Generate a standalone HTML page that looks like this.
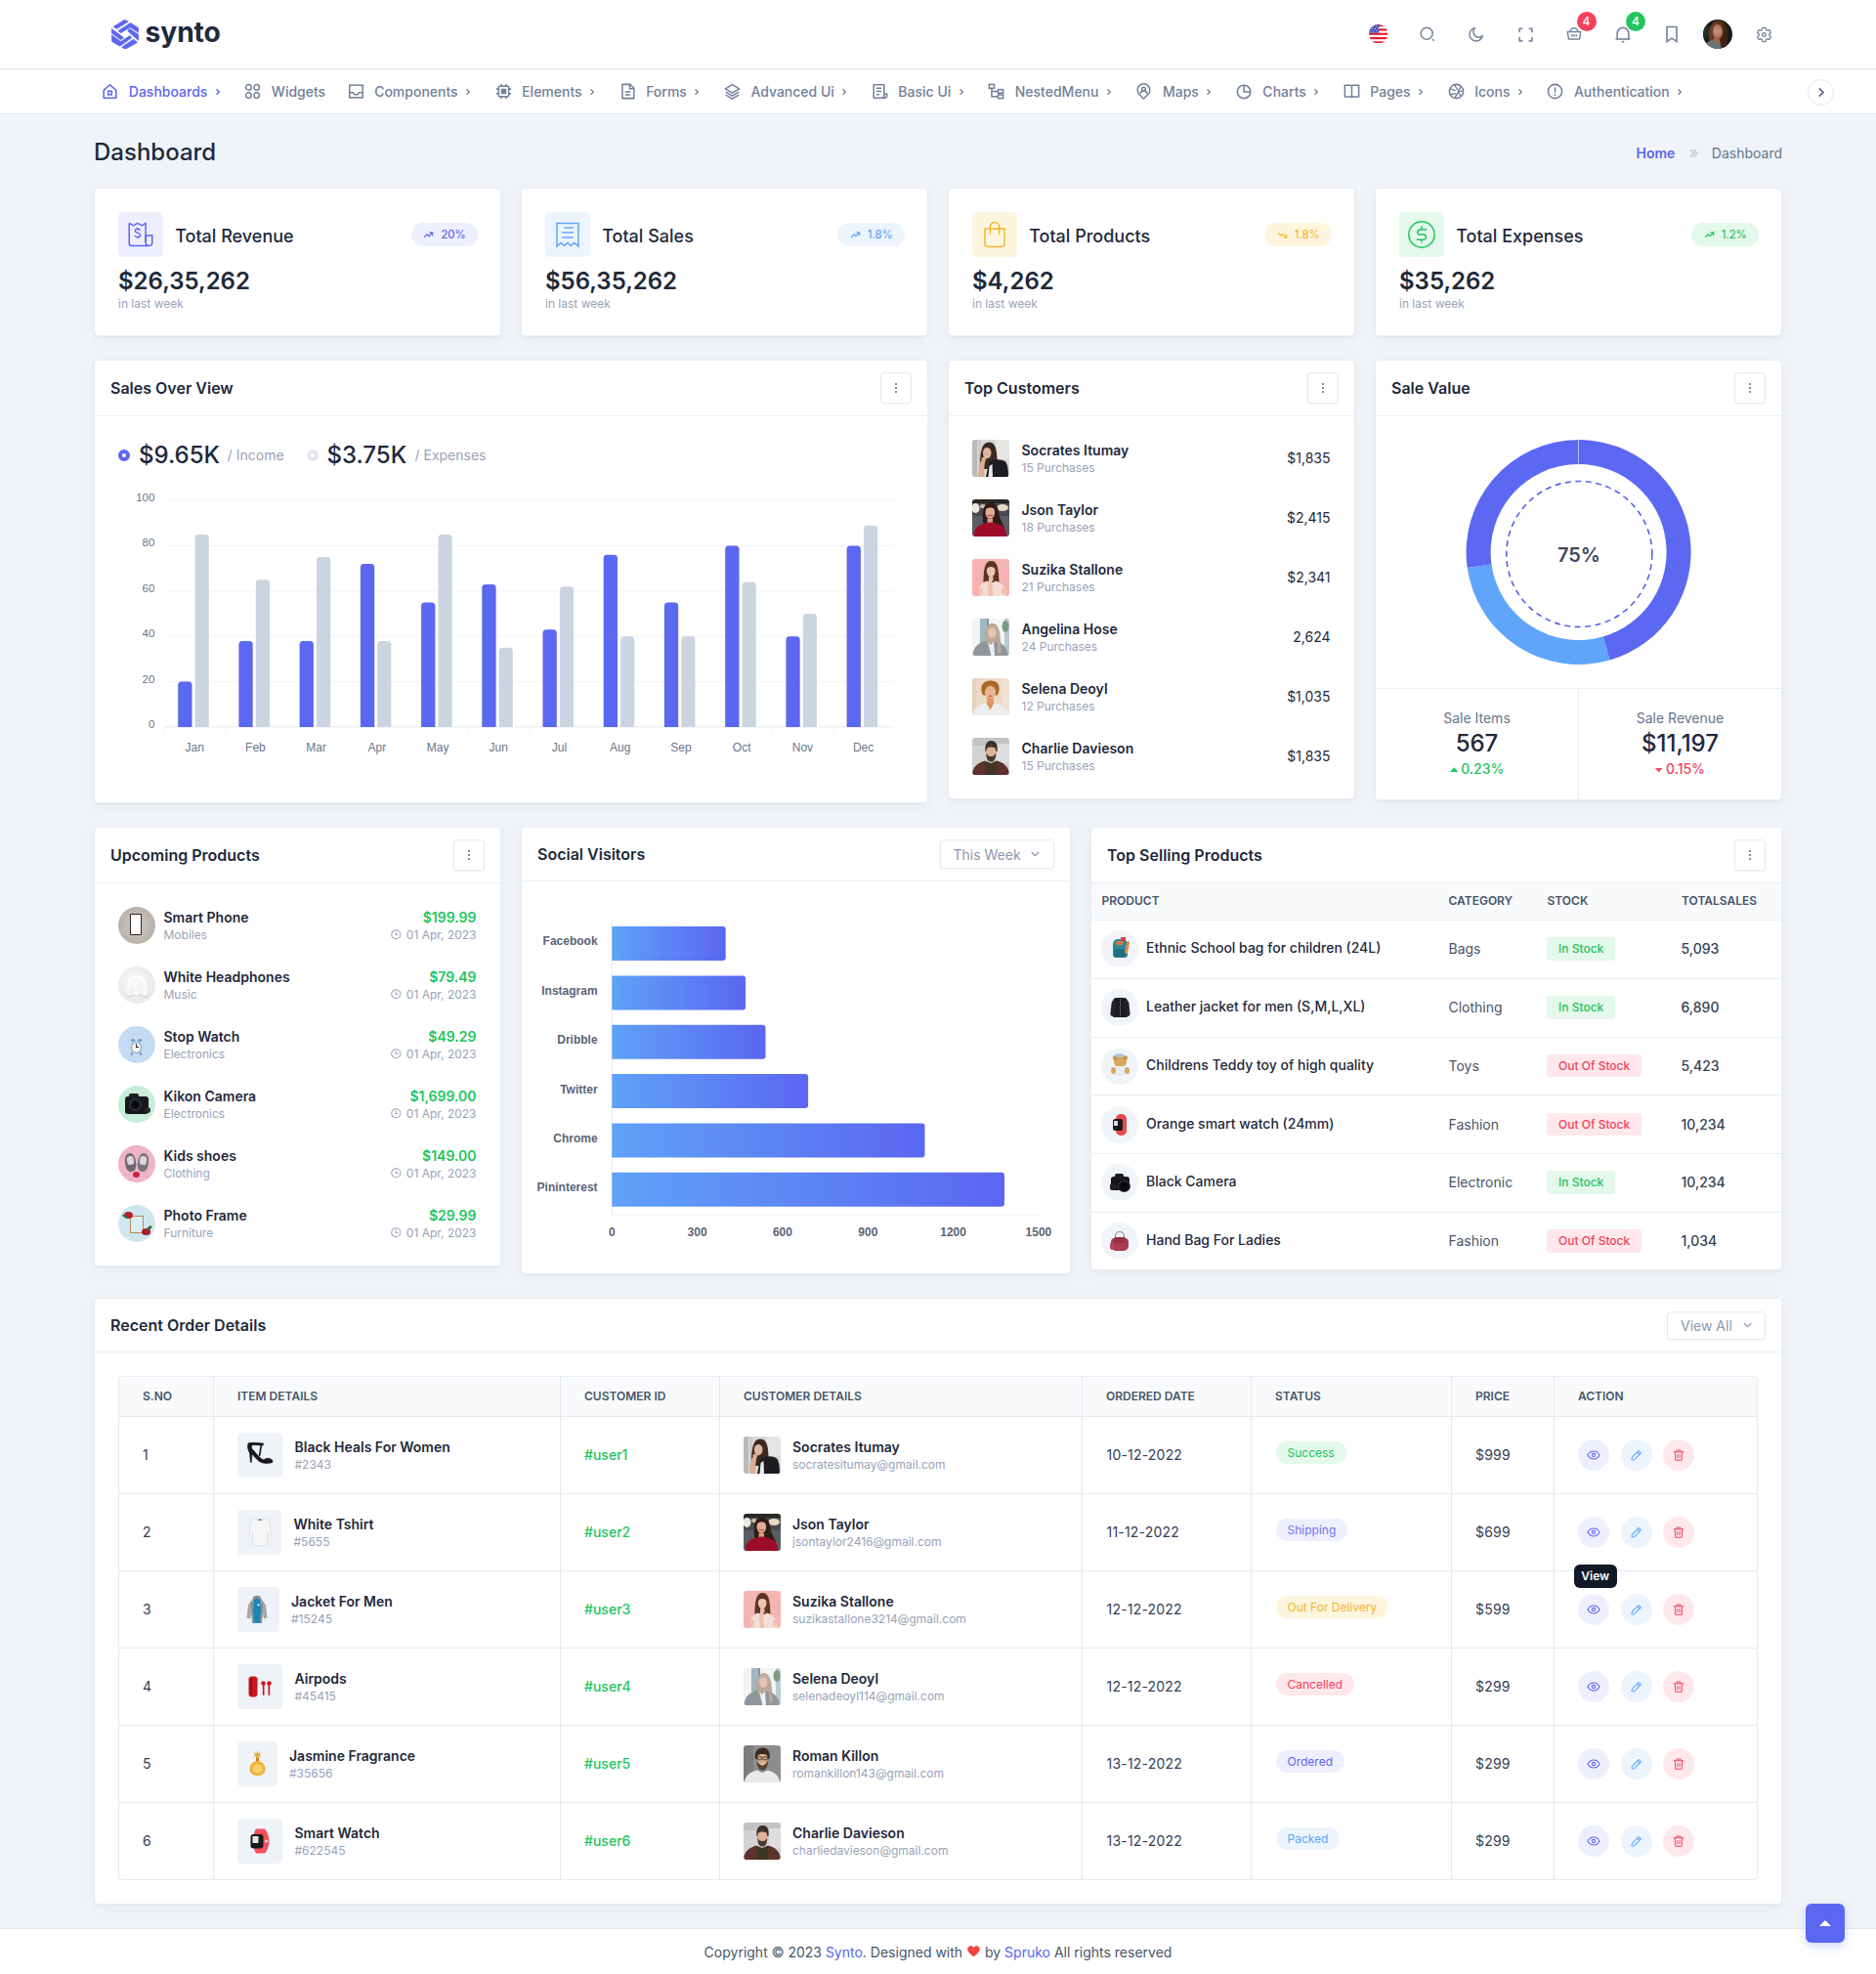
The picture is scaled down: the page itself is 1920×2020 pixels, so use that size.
<!DOCTYPE html>
<html lang="en"><head><meta charset="utf-8"><title>Synto - Dashboard</title>
<style>
*{box-sizing:border-box;margin:0;padding:0}
html,body{width:1920px;height:2020px;overflow:hidden}
body{font-family:Inter,"Liberation Sans",sans-serif;font-size:14px;color:#1e293b;background:#f0f4f8;position:relative;-webkit-font-smoothing:antialiased}
svg{display:block}
.abs{position:absolute}
.card{position:absolute;background:#fff;border:1px solid #e9edf3;border-radius:4px;box-shadow:0 1px 2px rgba(15,23,42,.04),0 4px 12px rgba(30,41,59,.035)}
.chead{height:57px;border-bottom:1px solid #e9edf3;display:flex;align-items:center;justify-content:space-between;padding:0 16px 0 16px}
.chead h5{font-size:16px;font-weight:600;color:#1e293b}
.dots{width:32px;height:32px;border:1px solid #e5e9f0;border-radius:4px;background:#fff;display:flex;align-items:center;justify-content:center;box-shadow:0 1px 2px rgba(15,23,42,.05)}
.dots i{display:block;width:2px;height:2px;border-radius:50%;background:#5b6478;box-shadow:0 -4px 0 #5b6478,0 4px 0 #5b6478}
.muted{color:#94a3b8}
.hic{fill:none;stroke:#78859b;stroke-width:2;stroke-linecap:butt}
.bdg{width:20px;height:20px;border-radius:50%;color:#fff;font-size:12px;font-weight:500;line-height:20px;text-align:center}
.ni{display:flex;flex:none;align-items:center;padding:0 11px 0 10.500px;color:#73809a;font-size:14px;font-weight:500;height:45px}
.ni svg{fill:none;stroke:currentColor;stroke-width:1.900;flex:none}
.ni span{margin-left:9.500px;position:relative;top:.800px}
.ni>svg:first-child{position:relative;top:1px}
.ni .chv{margin-left:7.500px;margin-right:2px;stroke-width:1.300;margin-top:3px}
.ni.act{color:#5b66f1}
.st-t{font-size:18px;font-weight:500;line-height:28px;color:#1e293b;white-space:nowrap}
.st-b{height:24px;border-radius:12px;padding:0 11.800px 0 12.300px;display:flex;align-items:center;font-size:11.200px;font-weight:500;line-height:24px}
.st-b span{margin-left:7px}
.st-v{font-size:24px;font-weight:600;line-height:32px;color:#1e293b;white-space:nowrap}
.st-s{font-size:12px;line-height:16px;color:#98a2bb;white-space:nowrap}
.lg-v{font-size:24px;font-weight:500;line-height:32px;color:#1e293b;white-space:nowrap}
.lg-s{font-size:14px;line-height:20px;color:#98a2bb;white-space:nowrap}
.av{position:relative;overflow:hidden;flex:none}
.av div{position:absolute}
.tc-n{font-size:14px;font-weight:600;line-height:20px;color:#1e293b;white-space:nowrap}
.tc-s{font-size:12px;line-height:16px;color:#98a2bb;white-space:nowrap}
.tc-p{font-size:14px;line-height:20px;color:#1e293b;white-space:nowrap}
.sv-l{font-size:14px;line-height:20px;color:#66748b;text-align:center}
.sv-v{font-size:24px;font-weight:500;line-height:32px;color:#1e293b;text-align:center}
.sv-p{font-size:14px;font-weight:500;line-height:20px;text-align:center}
.th{position:relative;width:38px;height:38px;border-radius:50%;overflow:hidden}
.th div{position:absolute}
.pth{position:relative;width:38px;height:38px;border-radius:50%;overflow:hidden;background:#f1f5f9}
.pth div{position:absolute}
.selbtn{border:1px solid #e5e9f0;border-radius:4px;background:#fff;display:flex;align-items:center;justify-content:space-between;padding:0 16px 0 13px;color:#8c97ad;font-size:14px;box-shadow:0 1px 2px rgba(15,23,42,.05)}
.tp-h{font-size:12px;font-weight:600;line-height:16px;color:#475569;white-space:nowrap}
.tp-n{font-size:14px;font-weight:500;line-height:20px;color:#1e293b;white-space:nowrap}
.tp-c{font-size:14px;line-height:20px;color:#475569;white-space:nowrap}
.tp-t{font-size:14px;font-weight:500;line-height:20px;color:#334155;white-space:nowrap}
.bg{display:inline-block;height:23.500px;line-height:23.500px;padding:0 12px;border-radius:3px;font-size:12px;font-weight:500;white-space:nowrap}
.bg-g{background:rgba(34,197,94,.12);color:#22c55e}
.bg-r{background:rgba(244,63,94,.12);color:#f43f5e}
.pim{position:relative;height:45.500px;border-radius:4px;background:#eff3f8;overflow:hidden}
.ro-t{font-size:14px;line-height:20px;color:#334155;white-space:nowrap;letter-spacing:.2px}
.ro-u{font-size:14px;font-weight:500;line-height:20px;color:#22c55e;white-space:nowrap}
.sb{height:23px;line-height:23px;border-radius:12px;padding:0 12px;font-size:12px;font-weight:400;white-space:nowrap}
.ab{width:32px;height:32px;border-radius:50%;display:flex;align-items:center;justify-content:center}
.avs{display:block;overflow:hidden}

</style></head><body>
<svg width="0" height="0" style="position:absolute"><defs><filter id="avb" x="-5%" y="-5%" width="110%" height="110%"><feGaussianBlur stdDeviation=".45"/></filter></defs></svg>
<div class="abs" id="hdr" style="left:0;top:0;width:1920px;height:71px;background:#fff;border-bottom:1px solid #e2e8f0"></div>
<svg class="abs" style="left:113.850px;top:19.850px" width="28.100" height="30.200" viewBox="0 0 28.100 30.200"><g fill="#5b66f1" stroke="#5b66f1" stroke-width=".7" stroke-linejoin="round">
<path d="M2.200 7.300L12.600 .8Q13.600 .3 14.600 .7L17.400 1.900 5.600 9.400z"/>
<path d="M19.400 3.600L26.500 7.700Q27.700 8.500 27.700 9.800V13.300L19.100 7.900 9.700 13.700 6.900 11.600z"/>
<path d="M.4 9.600L12.600 18.600 9.600 20.700 .4 14z"/>
<path d="M18.700 9.500L27.700 15.300V21.400L16.500 11.500z"/>
<path d="M.4 15.900L9.600 22.600 18.700 16.600 20.900 18.500 8.800 27.300 1.800 23.300Q.4 22.400 .4 20.900z"/>
<path d="M10.700 28.300L22.500 20.200 26.600 23.400 15.300 29.700Q14 30.300 12.800 29.600z"/>
</g></svg>
<div class="abs" id="logotxt" style="left:148.600px;top:14.600px;font-size:28.200px;font-weight:700;line-height:36px;color:#1e293b;letter-spacing:-.1px">synto</div>
<!-- flag -->
<svg class="abs" style="left:1401px;top:24.5px" width="19.5" height="19.5" viewBox="0 0 20 20"><defs><clipPath id="fc"><circle cx="10" cy="10" r="10"/></clipPath></defs><g clip-path="url(#fc)"><rect width="20" height="20" fill="#fff"/><g fill="#e8192c"><rect y="0.00" width="20" height="2.230"/><rect y="4.44" width="20" height="2.230"/><rect y="8.89" width="20" height="2.230"/><rect y="13.33" width="20" height="2.230"/><rect y="17.78" width="20" height="2.230"/></g><rect width="10.500" height="8.900" fill="#3b4cc0"/><g fill="#fff"><circle cx="2" cy="2" r=".6"/><circle cx="5" cy="2" r=".6"/><circle cx="8" cy="2" r=".6"/><circle cx="3.5" cy="4.5" r=".6"/><circle cx="6.5" cy="4.5" r=".6"/><circle cx="9.5" cy="4.5" r=".6"/><circle cx="2" cy="7" r=".6"/><circle cx="5" cy="7" r=".6"/><circle cx="8" cy="7" r=".6"/></g></g></svg>
<!-- search -->
<svg class="abs hic" style="left:1452px;top:26px" width="18" height="18" viewBox="0 0 24 24"><circle cx="11" cy="11" r="8"/><path d="M18.6 18.6 L21 21"/></svg>
<!-- moon -->
<svg class="abs hic" style="left:1502px;top:26px" width="18" height="18" viewBox="0 0 24 24"><path d="M10 3.5 A6.2 6.2 0 0 0 20.5 14 A9 9 0 1 1 10 3.500 Z" stroke-linejoin="round"/></svg>
<!-- fullscreen -->
<svg class="abs hic" style="left:1551.500px;top:25.500px" width="19" height="19" viewBox="0 0 24 24"><path d="M8 4H4v5M16 4h4v5M8 20H4v-5M16 20h4v-5" stroke-linejoin="miter"/></svg>
<!-- basket -->
<svg class="abs hic" style="left:1602px;top:25.200px" width="18" height="18" viewBox="0 0 24 24"><path d="M3 10h18l-1.6 10H4.600z" stroke-linejoin="round"/><path d="M7 10a5 5 0 0 1 10 0"/><path d="M9 13.500v3M12 13.500v3M15 13.500v3"/></svg>
<div class="abs bdg" style="left:1613.500px;top:12px;background:#f43f5e">4</div>
<!-- bell -->
<svg class="abs hic" style="left:1651.300px;top:25px" width="20" height="20" viewBox="0 0 24 24"><path d="M5 18V11a7 7 0 0 1 14 0v7" stroke-linejoin="round"/><path d="M3 18h18"/><path d="M10.500 21.200h3"/></svg>
<div class="abs bdg" style="left:1664px;top:12px;background:#22c55e">4</div>
<!-- bookmark -->
<svg class="abs hic" style="left:1701px;top:25px" width="20" height="20" viewBox="0 0 24 24"><path d="M6 3h12v18l-6-4-6 4z" stroke-linejoin="miter"/></svg>
<!-- avatar -->
<div class="abs" style="left:1743px;top:20px;width:30px;height:30px;border-radius:50%;overflow:hidden;background:#191a17">
<div class="abs" style="left:-4px;top:6px;width:12px;height:12px;border-radius:50%;background:#26332c;filter:blur(2px)"></div>
<div class="abs" style="left:5.500px;top:1px;width:20px;height:30px;border-radius:48% 48% 40% 40%;background:linear-gradient(100deg,#7a4426 0,#5a2e1a 45%,#2c1810 100%)"></div>
<div class="abs" style="left:9.500px;top:4.500px;width:10.500px;height:15px;border-radius:48% 48% 50% 50%;background:radial-gradient(circle at 40% 45%,#c9987c 0,#a87458 60%,#6e4532 100%)"></div>
<div class="abs" style="left:3px;top:21px;width:15px;height:12px;border-radius:45% 40% 0 0;background:#66757f;transform:rotate(-12deg)"></div>
<div class="abs" style="left:11px;top:19px;width:6px;height:6px;background:#9a6a50;transform:rotate(-10deg)"></div>
</div>
<!-- gear -->
<svg class="abs hic" style="left:1796.600px;top:26.500px" width="17" height="17" viewBox="0 0 24 24"><path d="M9.15 4.95 L9.88 2.02 L14.12 2.02 L14.85 4.95 L16.68 6.01 L19.58 5.17 L21.70 8.85 L19.53 10.94 L19.53 13.06 L21.70 15.15 L19.58 18.83 L16.68 17.99 L14.85 19.05 L14.12 21.98 L9.88 21.98 L9.15 19.05 L7.32 17.99 L4.42 18.83 L2.30 15.15 L4.47 13.06 L4.47 10.94 L2.30 8.85 L4.42 5.17 L7.32 6.01Z" stroke-linejoin="round" stroke-width="1.900"/><circle cx="12" cy="12" r="2.600" stroke-width="1.900"/></svg>
<div class="abs" style="left:0;top:71px;width:1920px;height:46px;background:#fff;border-bottom:1px solid #e2e8f0"></div>
<div class="abs" id="nav" style="left:92.800px;top:70px;height:45px;display:flex;align-items:center;white-space:nowrap">
<div class="ni act" style="width:146.06px"><svg width="19" height="19" viewBox="0 0 24 24"><path d="M4 10.500L12 3.500l8 7V20.500H4z" stroke-linejoin="round"/><rect x="9.700" y="11.700" width="4.600" height="4.600"/></svg><span>Dashboards</span><svg class="chv" width="6" height="8" viewBox="0 0 6 8"><path d="M1.500 1.200L4.300 4 1.500 6.800"/></svg></div>
<div class="ni" style="width:105.31px"><svg width="19" height="19" viewBox="0 0 24 24"><circle cx="6.800" cy="6.800" r="3.500"/><circle cx="17.200" cy="6.800" r="3.500"/><circle cx="6.800" cy="17.200" r="3.500"/><circle cx="17.200" cy="17.200" r="3.500"/></svg><span>Widgets</span></div>
<div class="ni" style="width:151.03px"><svg width="19" height="19" viewBox="0 0 24 24"><rect x="3.500" y="4" width="17" height="16"/><path d="M3.500 13.500h4.700a3.900 3.900 0 0 0 7.600 0h4.700"/></svg><span>Components</span><svg class="chv" width="6" height="8" viewBox="0 0 6 8"><path d="M1.500 1.200L4.300 4 1.500 6.800"/></svg></div>
<div class="ni" style="width:126.97px"><svg width="19" height="19" viewBox="0 0 24 24"><rect x="5.500" y="5.500" width="13" height="13" rx="1"/><rect x="9.300" y="9.300" width="5.400" height="5.400" fill="currentColor" stroke-width="1.500"/><path d="M9 2.500v3M15 2.500v3M9 18.500v3M15 18.500v3M2.500 9h3M2.500 15h3M18.500 9h3M18.500 15h3"/></svg><span>Elements</span><svg class="chv" width="6" height="8" viewBox="0 0 6 8"><path d="M1.500 1.200L4.300 4 1.500 6.800"/></svg></div>
<div class="ni" style="width:107.28px"><svg width="19" height="19" viewBox="0 0 24 24"><path d="M5 3h10l5 5v13H5z" stroke-linejoin="round"/><path d="M14.500 3.500V8.500H19.500"/><path d="M8.500 12.500h7M8.500 16.500h7"/></svg><span>Forms</span><svg class="chv" width="6" height="8" viewBox="0 0 6 8"><path d="M1.500 1.200L4.300 4 1.500 6.800"/></svg></div>
<div class="ni" style="width:150.98px"><svg width="19" height="19" viewBox="0 0 24 24"><path d="M12 3.200L21 8.600 12 14 3 8.600z" stroke-linejoin="round"/><path d="M3.500 12.800L12 17.800l8.500-5M3.500 16.600L12 21.600l8.500-5" stroke-linejoin="round"/></svg><span>Advanced Ui</span><svg class="chv" width="6" height="8" viewBox="0 0 6 8"><path d="M1.500 1.200L4.300 4 1.500 6.800"/></svg></div>
<div class="ni" style="width:119.42px"><svg width="19" height="19" viewBox="0 0 24 24"><path d="M4 3.500h13.500v17H4z" stroke-linejoin="round"/><path d="M7.500 8h6.500M7.500 12h6.500M7.500 16h4"/><path d="M17.500 15.500h3.500v2.500a2.500 2.500 0 0 1-2.500 2.500h-4"/></svg><span>Basic Ui</span><svg class="chv" width="6" height="8" viewBox="0 0 6 8"><path d="M1.500 1.200L4.300 4 1.500 6.800"/></svg></div>
<div class="ni" style="width:151.20px"><svg width="19" height="19" viewBox="0 0 24 24"><rect x="3" y="3" width="6.500" height="5"/><rect x="14.500" y="9.700" width="6.500" height="4.600"/><rect x="14.500" y="16.400" width="6.500" height="4.600"/><path d="M6.200 8v10.700h8.300M6.200 12h8.300"/></svg><span>NestedMenu</span><svg class="chv" width="6" height="8" viewBox="0 0 6 8"><path d="M1.500 1.200L4.300 4 1.500 6.800"/></svg></div>
<div class="ni" style="width:102.42px"><svg width="19" height="19" viewBox="0 0 24 24"><path d="M12 21.500l-5.700-5.600a8 8 0 1 1 11.400 0z" stroke-linejoin="round"/><circle cx="12" cy="9" r="2.300"/><path d="M7.800 14.800a4.300 4.300 0 0 1 8.400 0"/></svg><span>Maps</span><svg class="chv" width="6" height="8" viewBox="0 0 6 8"><path d="M1.500 1.200L4.300 4 1.500 6.800"/></svg></div>
<div class="ni" style="width:109.98px"><svg width="19" height="19" viewBox="0 0 24 24"><circle cx="11.500" cy="12.500" r="8.500"/><path d="M11.500 4v8.500h8.500"/></svg><span>Charts</span><svg class="chv" width="6" height="8" viewBox="0 0 6 8"><path d="M1.500 1.200L4.300 4 1.500 6.800"/></svg></div>
<div class="ni" style="width:106.81px"><svg width="19" height="19" viewBox="0 0 24 24"><path d="M3 4h7.500a1.500 1.500 0 0 1 1.500 1.500V20.500a1.500 1.500 0 0 0-1.500-1.500H3zM21 4h-7.500a1.500 1.500 0 0 0-1.500 1.500V20.500a1.500 1.500 0 0 1 1.500-1.500H21z" stroke-linejoin="miter"/></svg><span>Pages</span><svg class="chv" width="6" height="8" viewBox="0 0 6 8"><path d="M1.500 1.200L4.300 4 1.500 6.800"/></svg></div>
<div class="ni" style="width:101.81px"><svg width="19" height="19" viewBox="0 0 24 24"><circle cx="12" cy="12" r="9"/><path d="M9.500 3.500l4 6.500M17.800 5.300l-3.300 6.900M21 11.500l-7.700.6M18.300 18.400l-4.500-6.200M10 20.700l3.800-6.600M4 15.800l7.600-.9M3.600 8.500l7.300 2.600" stroke-width="1.700"/></svg><span>Icons</span><svg class="chv" width="6" height="8" viewBox="0 0 6 8"><path d="M1.500 1.200L4.300 4 1.500 6.800"/></svg></div>
<div class="ni" style="width:163.33px"><svg width="19" height="19" viewBox="0 0 24 24"><circle cx="12" cy="12" r="9"/><path d="M12 7v6.500M12 15.400v2.200"/></svg><span>Authentication</span><svg class="chv" width="6" height="8" viewBox="0 0 6 8"><path d="M1.500 1.200L4.300 4 1.500 6.800"/></svg></div>
</div>
<div class="abs" style="left:1850px;top:80.500px;width:27px;height:27px;border-radius:50%;border:1px solid #e2e8f0;background:#fff"><svg style="position:absolute;left:9px;top:7.500px" width="8" height="11" viewBox="0 0 8 11"><path d="M1.800 1.300L6 5.500 1.800 9.700" fill="none" stroke="#596579" stroke-width="1.700"/></svg></div>
<div class="abs" id="ptitle" style="left:96px;top:140px;font-size:24px;font-weight:500;line-height:32px;color:#1e293b">Dashboard</div>
<div class="abs" id="bc" style="right:96px;top:147px;font-size:14px;line-height:20px;display:flex;align-items:center;white-space:nowrap"><span style="color:#5b66f1;font-weight:600">Home</span><span style="color:#c0c7d6;margin:0 13.500px 0 14px;font-size:17px;position:relative;top:-1.500px">&raquo;</span><span style="color:#66748b">Dashboard</span></div>
<div class="card" style="left:96px;top:192px;width:417px;height:152px">
<div class="abs" style="left:24px;top:24px;width:46px;height:46px;border-radius:5px;background:rgba(91,102,241,.1);color:#5b66f1"><svg style="position:absolute;left:0;top:0;fill:none;stroke:#5b66f1;stroke-width:1.500" width="46" height="46" viewBox="0 0 46 46"><path d="M11.200 11.400L15.600 13.800 19.900 11.300 24.300 13.800 28.100 11.400V31" stroke-linejoin="round"/><path d="M11.200 11.400V31.700a2.800 2.800 0 0 0 2.800 2.800H31.500a3.300 3.300 0 0 0 3.300-3.300V24H28.100V31a3.400 3.400 0 0 0 3.400 3.500"/><path d="M22.500 18.800c-.4-1-1.400-1.500-2.600-1.500-1.500 0-2.600.8-2.600 2 0 2.700 5.400 1.500 5.400 4.300 0 1.300-1.200 2.100-2.800 2.100-1.300 0-2.400-.6-2.800-1.700M19.900 15.800v1.500M19.900 25.700v1.600" stroke-width="1.400"/></svg></div>
<div class="abs st-t" style="left:82.200px;top:34.500px">Total Revenue</div>
<div class="abs st-b" style="right:23.500px;top:35px;background:rgba(91,102,241,.1);color:#5b66f1"><svg width="11" height="11" viewBox="0 0 11.500 12" style="fill:none;stroke:#5b66f1;stroke-width:1.300"><path d="M1 8.500L4.300 5.200 6.300 7.200 10 3.500M6.800 3.200H10.300V6.700" /></svg><span>20%</span></div>
<div class="abs st-v" style="left:24px;top:78.500px">$26,35,262</div>
<div class="abs st-s" style="left:24px;top:110px">in last week</div>
</div>
<div class="card" style="left:533px;top:192px;width:417px;height:152px">
<div class="abs" style="left:24px;top:24px;width:46px;height:46px;border-radius:5px;background:rgba(96,165,250,.12);color:#60a5fa"><svg style="position:absolute;left:0;top:0;fill:none;stroke:#60a5fa;stroke-width:1.500" width="46" height="46" viewBox="0 0 46 46"><path d="M12 35V11.500h21.900V35l-4.100-3.500-3.500 3.100-3.400-3.100-3.300 3.100-3.600-3.100z" stroke-linejoin="miter"/><path d="M19.300 16.100h9.600M17.100 21.100h11.800M17.100 25.900h11.800"/></svg></div>
<div class="abs st-t" style="left:82.200px;top:34.500px">Total Sales</div>
<div class="abs st-b" style="right:23.500px;top:35px;background:rgba(96,165,250,.12);color:#60a5fa"><svg width="11" height="11" viewBox="0 0 11.500 12" style="fill:none;stroke:#60a5fa;stroke-width:1.300"><path d="M1 8.500L4.300 5.200 6.300 7.200 10 3.500M6.800 3.200H10.300V6.700" /></svg><span>1.8%</span></div>
<div class="abs st-v" style="left:24px;top:78.500px">$56,35,262</div>
<div class="abs st-s" style="left:24px;top:110px">in last week</div>
</div>
<div class="card" style="left:970px;top:192px;width:417px;height:152px">
<div class="abs" style="left:24px;top:24px;width:46px;height:46px;border-radius:5px;background:rgba(251,191,36,.15);color:#f5b82e"><svg style="position:absolute;left:0;top:0;fill:none;stroke:#f5b82e;stroke-width:1.500" width="46" height="46" viewBox="0 0 46 46"><path d="M13 17h20.100v15.500a3 3 0 0 1-3 3H16a3 3 0 0 1-3-3z" stroke-linejoin="miter"/><path d="M18.500 22v-7a4.600 4.600 0 0 1 9.200 0v7" stroke-linecap="round"/></svg></div>
<div class="abs st-t" style="left:82.200px;top:34.500px">Total Products</div>
<div class="abs st-b" style="right:23.500px;top:35px;background:rgba(251,191,36,.15);color:#f5b82e"><svg width="11" height="11" viewBox="0 0 11.500 12" style="fill:none;stroke:#f5b82e;stroke-width:1.300"><path d="M1 3.500L4.300 6.800 6.300 4.800 10 8.500M6.800 8.800H10.300V5.300" /></svg><span>1.8%</span></div>
<div class="abs st-v" style="left:24px;top:78.500px">$4,262</div>
<div class="abs st-s" style="left:24px;top:110px">in last week</div>
</div>
<div class="card" style="left:1407px;top:192px;width:417px;height:152px">
<div class="abs" style="left:24px;top:24px;width:46px;height:46px;border-radius:5px;background:rgba(34,197,94,.12);color:#22c55e"><svg style="position:absolute;left:0;top:0;fill:none;stroke:#22c55e;stroke-width:1.500" width="46" height="46" viewBox="0 0 46 46"><circle cx="23" cy="23" r="13.200"/><path d="M27.800 17.900h-6.400a2.600 2.600 0 0 0 0 5.200h3.400a2.600 2.600 0 0 1 0 5.200h-6.600M23 15v2.900M23 28.300v2.700" stroke-linecap="round"/></svg></div>
<div class="abs st-t" style="left:82.200px;top:34.500px">Total Expenses</div>
<div class="abs st-b" style="right:23.500px;top:35px;background:rgba(34,197,94,.12);color:#22c55e"><svg width="11" height="11" viewBox="0 0 11.500 12" style="fill:none;stroke:#22c55e;stroke-width:1.300"><path d="M1 8.500L4.300 5.200 6.300 7.200 10 3.500M6.800 3.200H10.300V6.700" /></svg><span>1.2%</span></div>
<div class="abs st-v" style="left:24px;top:78.500px">$35,262</div>
<div class="abs st-s" style="left:24px;top:110px">in last week</div>
</div>
<div class="card" style="left:96px;top:368px;width:854px;height:454px">
<div class="chead"><h5>Sales Over View</h5><div class="dots"><i></i></div></div>
<div class="abs" style="left:23.500px;top:90.500px;width:12.400px;height:12.400px;border-radius:50%;border:4.200px solid #5b66f1"></div>
<div class="abs lg-v" style="left:45px;top:80.700px">$9.65K</div><div class="abs lg-s" style="left:135.800px;top:87px">/ Income</div>
<div class="abs" style="left:216.500px;top:90.500px;width:12.400px;height:12.400px;border-radius:50%;border:4.200px solid #e2e6f0"></div>
<div class="abs lg-v" style="left:237.500px;top:80.700px">$3.75K</div><div class="abs lg-s" style="left:327.500px;top:87px">/ Expenses</div>
<svg class="abs" style="left:0;top:0" width="852" height="452" viewBox="0 0 852 452" font-family="Liberation Sans,Helvetica,Arial,sans-serif"><line x1="71.4" x2="818.0" y1="374.9" y2="374.9" stroke="#e6e9f0" stroke-width="1"/><text x="61.4" y="375.8" text-anchor="end" font-size="11.5" fill="#6b7688">0</text><line x1="71.4" x2="818.0" y1="328.6" y2="328.6" stroke="#f1f3f7" stroke-width="1"/><text x="61.4" y="329.5" text-anchor="end" font-size="11.5" fill="#6b7688">20</text><line x1="71.4" x2="818.0" y1="282.2" y2="282.2" stroke="#f1f3f7" stroke-width="1"/><text x="61.4" y="283.1" text-anchor="end" font-size="11.5" fill="#6b7688">40</text><line x1="71.4" x2="818.0" y1="235.9" y2="235.9" stroke="#f1f3f7" stroke-width="1"/><text x="61.4" y="236.8" text-anchor="end" font-size="11.5" fill="#6b7688">60</text><line x1="71.4" x2="818.0" y1="189.5" y2="189.5" stroke="#f1f3f7" stroke-width="1"/><text x="61.4" y="190.4" text-anchor="end" font-size="11.5" fill="#6b7688">80</text><line x1="71.4" x2="818.0" y1="143.2" y2="143.2" stroke="#f1f3f7" stroke-width="1"/><text x="61.4" y="144.1" text-anchor="end" font-size="11.5" fill="#6b7688">100</text><line x1="71.4" x2="71.4" y1="374.9" y2="380.9" stroke="#f3f5f8" stroke-width="1"/><line x1="133.6" x2="133.6" y1="374.9" y2="380.9" stroke="#f3f5f8" stroke-width="1"/><line x1="195.8" x2="195.8" y1="374.9" y2="380.9" stroke="#f3f5f8" stroke-width="1"/><line x1="258.1" x2="258.1" y1="374.9" y2="380.9" stroke="#f3f5f8" stroke-width="1"/><line x1="320.3" x2="320.3" y1="374.9" y2="380.9" stroke="#f3f5f8" stroke-width="1"/><line x1="382.5" x2="382.5" y1="374.9" y2="380.9" stroke="#f3f5f8" stroke-width="1"/><line x1="444.7" x2="444.7" y1="374.9" y2="380.9" stroke="#f3f5f8" stroke-width="1"/><line x1="506.9" x2="506.9" y1="374.9" y2="380.9" stroke="#f3f5f8" stroke-width="1"/><line x1="569.1" x2="569.1" y1="374.9" y2="380.9" stroke="#f3f5f8" stroke-width="1"/><line x1="631.4" x2="631.4" y1="374.9" y2="380.9" stroke="#f3f5f8" stroke-width="1"/><line x1="693.6" x2="693.6" y1="374.9" y2="380.9" stroke="#f3f5f8" stroke-width="1"/><line x1="755.8" x2="755.8" y1="374.9" y2="380.9" stroke="#f3f5f8" stroke-width="1"/><line x1="818.0" x2="818.0" y1="374.9" y2="380.9" stroke="#f3f5f8" stroke-width="1"/><path d="M85.2 374.9V332.1q0-3.5 3.5-3.5h7.3q3.5 0 3.5 3.5V374.9z" fill="#5c67f2"/><path d="M102.6 374.9V181.5q0-3.5 3.5-3.5h7.2q3.5 0 3.5 3.5V374.9z" fill="#cbd5e1"/><text x="102.2" y="399.8" text-anchor="middle" font-size="12" fill="#6b7688">Jan</text><path d="M147.4 374.9V290.4q0-3.5 3.5-3.5h7.3q3.5 0 3.5 3.5V374.9z" fill="#5c67f2"/><path d="M164.8 374.9V227.8q0-3.5 3.5-3.5h7.2q3.5 0 3.5 3.5V374.9z" fill="#cbd5e1"/><text x="164.4" y="399.8" text-anchor="middle" font-size="12" fill="#6b7688">Feb</text><path d="M209.6 374.9V290.4q0-3.5 3.5-3.5h7.3q3.5 0 3.5 3.5V374.9z" fill="#5c67f2"/><path d="M227.0 374.9V204.6q0-3.5 3.5-3.5h7.2q3.5 0 3.5 3.5V374.9z" fill="#cbd5e1"/><text x="226.6" y="399.8" text-anchor="middle" font-size="12" fill="#6b7688">Mar</text><path d="M271.9 374.9V211.6q0-3.5 3.5-3.5h7.3q3.5 0 3.5 3.5V374.9z" fill="#5c67f2"/><path d="M289.2 374.9V290.4q0-3.5 3.5-3.5h7.2q3.5 0 3.5 3.5V374.9z" fill="#cbd5e1"/><text x="288.9" y="399.8" text-anchor="middle" font-size="12" fill="#6b7688">Apr</text><path d="M334.1 374.9V251.0q0-3.5 3.5-3.5h7.3q3.5 0 3.5 3.5V374.9z" fill="#5c67f2"/><path d="M351.5 374.9V181.5q0-3.5 3.5-3.5h7.2q3.5 0 3.5 3.5V374.9z" fill="#cbd5e1"/><text x="351.1" y="399.8" text-anchor="middle" font-size="12" fill="#6b7688">May</text><path d="M396.3 374.9V232.4q0-3.5 3.5-3.5h7.3q3.5 0 3.5 3.5V374.9z" fill="#5c67f2"/><path d="M413.7 374.9V297.3q0-3.5 3.5-3.5h7.2q3.5 0 3.5 3.5V374.9z" fill="#cbd5e1"/><text x="413.3" y="399.8" text-anchor="middle" font-size="12" fill="#6b7688">Jun</text><path d="M458.5 374.9V278.8q0-3.5 3.5-3.5h7.3q3.5 0 3.5 3.5V374.9z" fill="#5c67f2"/><path d="M475.9 374.9V234.7q0-3.5 3.5-3.5h7.2q3.5 0 3.5 3.5V374.9z" fill="#cbd5e1"/><text x="475.5" y="399.8" text-anchor="middle" font-size="12" fill="#6b7688">Jul</text><path d="M520.7 374.9V202.3q0-3.5 3.5-3.5h7.3q3.5 0 3.5 3.5V374.9z" fill="#5c67f2"/><path d="M538.1 374.9V285.7q0-3.5 3.5-3.5h7.2q3.5 0 3.5 3.5V374.9z" fill="#cbd5e1"/><text x="537.7" y="399.8" text-anchor="middle" font-size="12" fill="#6b7688">Aug</text><path d="M582.9 374.9V251.0q0-3.5 3.5-3.5h7.3q3.5 0 3.5 3.5V374.9z" fill="#5c67f2"/><path d="M600.3 374.9V285.7q0-3.5 3.5-3.5h7.2q3.5 0 3.5 3.5V374.9z" fill="#cbd5e1"/><text x="599.9" y="399.8" text-anchor="middle" font-size="12" fill="#6b7688">Sep</text><path d="M645.2 374.9V193.0q0-3.5 3.5-3.5h7.3q3.5 0 3.5 3.5V374.9z" fill="#5c67f2"/><path d="M662.6 374.9V230.1q0-3.5 3.5-3.5h7.2q3.5 0 3.5 3.5V374.9z" fill="#cbd5e1"/><text x="662.2" y="399.8" text-anchor="middle" font-size="12" fill="#6b7688">Oct</text><path d="M707.4 374.9V285.7q0-3.5 3.5-3.5h7.3q3.5 0 3.5 3.5V374.9z" fill="#5c67f2"/><path d="M724.8 374.9V262.6q0-3.5 3.5-3.5h7.2q3.5 0 3.5 3.5V374.9z" fill="#cbd5e1"/><text x="724.4" y="399.8" text-anchor="middle" font-size="12" fill="#6b7688">Nov</text><path d="M769.6 374.9V193.0q0-3.5 3.5-3.5h7.3q3.5 0 3.5 3.5V374.9z" fill="#5c67f2"/><path d="M787.0 374.9V172.2q0-3.5 3.5-3.5h7.2q3.5 0 3.5 3.5V374.9z" fill="#cbd5e1"/><text x="786.6" y="399.8" text-anchor="middle" font-size="12" fill="#6b7688">Dec</text></svg>
</div>
<div class="card" style="left:970px;top:368px;width:417px;height:450px">
<div class="chead"><h5>Top Customers</h5><div class="dots"><i></i></div></div>
<div class="abs" style="left:24px;top:81px"><svg class="avs" width="38" height="38" viewBox="0 0 38 38" style="border-radius:3px"><g filter="url(#avb)"><rect width="38" height="38" fill="#d9d9d7"/><rect x="0" width="5" height="38" fill="#b9b9b5"/><rect x="6.500" width="2" height="38" fill="#c6c6c2"/><rect x="24" y="0" width="14" height="20" fill="#e6e6e4"/><path d="M8 26C8 12 10 2.500 17 2.500S25 10 25.500 20L24 30H9z" fill="#3a2a24"/><ellipse cx="15.200" cy="13.500" rx="4.300" ry="5.800" fill="#e2b59e"/><path d="M10.500 9C12 5 18 4.500 20 9.500 17 7.500 13.500 7.500 10.500 9z" fill="#3a2a24"/><path d="M14 38L17 24C21 19 30 19.500 34 22.500 36.500 25 37 32 37 38z" fill="#1f1f21"/><path d="M16.500 38L17.500 27 20.500 25 21 38z" fill="#e9ebee"/><path d="M6 38C6 30 8 22 10.500 19.500L13.500 21C12.500 25 12 32 12.500 38z" fill="#dcae96"/><path d="M9.500 19c1.500-2 4-2 5 0l-1 2.500h-3.500z" fill="#dcae96"/></g></svg></div><div class="abs tc-n" style="left:74.500px;top:81.5px">Socrates Itumay</div><div class="abs tc-s" style="left:74.500px;top:101.5px">15 Purchases</div><div class="abs tc-p" style="right:24.500px;top:89.5px">$1,835</div><div class="abs" style="left:24px;top:142px"><svg class="avs" width="38" height="38" viewBox="0 0 38 38" style="border-radius:3px"><g filter="url(#avb)"><rect width="38" height="38" fill="#4a4b50"/><rect y="0" width="38" height="4" fill="#2a2624"/><ellipse cx="3.500" cy="9" rx="4" ry="5" fill="#efe9e0"/><ellipse cx="31" cy="8.500" rx="6" ry="3.500" fill="#e8d9c4"/><ellipse cx="11" cy="7" rx="3" ry="2" fill="#c9bfb2"/><rect y="17" width="38" height="21" fill="#5a5d63"/><path d="M11 23C10 10 12.500 3.500 18.500 3.500S27 8 27.500 16C29 22 32 25 33 29L24 27 12 26z" fill="#2f1d18"/><ellipse cx="18.300" cy="13.500" rx="4.800" ry="6.200" fill="#e3ad94"/><path d="M13.300 10C14.500 5.500 21 4.500 23.500 9.500 20 8 16 8 13.300 10z" fill="#2f1d18"/><path d="M15.800 16.200Q18.300 18.600 20.800 16.200Q18.300 17 15.800 16.200z" fill="#fff" stroke="#b3202c" stroke-width=".7"/><path d="M15.500 19.500h5.500v5h-5.500z" fill="#d79c84"/><path d="M1.500 38C2 30 5 26 13.500 24.500Q18.500 22.500 23.500 24.500C31 26 35 29 35.500 38z" fill="#9d1129"/></g></svg></div><div class="abs tc-n" style="left:74.500px;top:142.5px">Json Taylor</div><div class="abs tc-s" style="left:74.500px;top:162.5px">18 Purchases</div><div class="abs tc-p" style="right:24.500px;top:150.5px">$2,415</div><div class="abs" style="left:24px;top:203px"><svg class="avs" width="38" height="38" viewBox="0 0 38 38" style="border-radius:3px"><g filter="url(#avb)"><rect width="38" height="38" fill="#f5b3b3"/><path d="M11.500 24C11.500 10 13 2 19.500 2S27 10 27.500 24z" fill="#5a3524"/><ellipse cx="19.200" cy="12.500" rx="4.300" ry="5.800" fill="#efc4ad"/><path d="M14.800 9.500C16 5 22.500 4.500 24 9.500 21 7.500 17.500 7.500 14.800 9.500z" fill="#5a3524"/><path d="M17 17.500h4.500v5H17z" fill="#e9b9a2"/><path d="M7 38C7 28 9 24 15 22.500L19.500 25 24 22.500C30 24 34 28 34.500 38z" fill="#f6dcd8"/><path d="M17 38C16 32 15.500 25 17.500 19.500L20.500 20.500C20 26 20.500 32 21.500 38z" fill="#eec2ac"/><path d="M30 30h5v6h-5zM7 30h4v7H7z" fill="#efc4ad"/></g></svg></div><div class="abs tc-n" style="left:74.500px;top:203.5px">Suzika Stallone</div><div class="abs tc-s" style="left:74.500px;top:223.5px">21 Purchases</div><div class="abs tc-p" style="right:24.500px;top:211.5px">$2,341</div><div class="abs" style="left:24px;top:264px"><svg class="avs" width="38" height="38" viewBox="0 0 38 38" style="border-radius:3px"><g filter="url(#avb)"><rect width="38" height="38" fill="#f2f4f4"/><rect x="8" width="7.500" height="38" fill="#9fb7c1"/><rect x="15.500" width="1.200" height="38" fill="#55666e"/><rect x="33" width="5" height="38" fill="#b5ccd2"/><ellipse cx="34" cy="8" rx="3.500" ry="6" fill="#7d9a80"/><path d="M12.500 30C12 14 14.500 5 20.500 5S28.500 12 29 22L30.500 34H13z" fill="#b9a99a"/><ellipse cx="20.300" cy="14.500" rx="4.200" ry="5.600" fill="#e6c3b1"/><path d="M16 11.500C17 7 23.500 6.500 24.800 11.500 22 9.500 18.500 9.500 16 11.500z" fill="#c3b3a3"/><path d="M.5 38C1 29 6 25 14 23L19 30 24 23.500C30 25 36 28 37 38z" fill="#8f979c"/><path d="M16 24L19.500 38H23L22 24 19 27z" fill="#eef0f2"/><path d="M24 14C27 18 29 26 30 34L26 36C26.500 28 25.500 20 24 14z" fill="#b9a99a"/></g></svg></div><div class="abs tc-n" style="left:74.500px;top:264.5px">Angelina Hose</div><div class="abs tc-s" style="left:74.500px;top:284.5px">24 Purchases</div><div class="abs tc-p" style="right:24.500px;top:272.5px">2,624</div><div class="abs" style="left:24px;top:325px"><svg class="avs" width="38" height="38" viewBox="0 0 38 38" style="border-radius:3px"><g filter="url(#avb)"><rect width="38" height="38" fill="#edd9c7"/><rect x="0" width="4" height="38" fill="#e6cfba"/><rect x="30.500" width="7.500" height="38" fill="#f1e2d4"/><path d="M9.500 13C8.500 6 13 2.500 18.500 2.500S28.500 5 27.500 12.500C27 15.500 26 16.500 25.500 17.500L11.500 17.500C10.500 16.500 10 15 9.500 13z" fill="#a9672c"/><ellipse cx="18.500" cy="14.500" rx="5.600" ry="6.800" fill="#e8b697"/><path d="M12 12C12.500 6.500 23 5 25.500 11 22 9.500 19 7.500 17.500 7 16 9 14 11 12 12z" fill="#b5722f"/><path d="M16.800 18.300h3.400" stroke="#b3282c" stroke-width=".9"/><path d="M15 20h7v7h-7z" fill="#e49a68"/><path d="M1 38C1.500 31 5 27.500 14 25.500L18.500 32 23 25.500C31 27.500 36 31 37 38z" fill="#eceef0"/><path d="M14.500 25L18.500 32.500 22.500 25 18.500 26z" fill="#e38e52"/></g></svg></div><div class="abs tc-n" style="left:74.500px;top:325.5px">Selena Deoyl</div><div class="abs tc-s" style="left:74.500px;top:345.5px">12 Purchases</div><div class="abs tc-p" style="right:24.500px;top:333.5px">$1,035</div><div class="abs" style="left:24px;top:386px"><svg class="avs" width="38" height="38" viewBox="0 0 38 38" style="border-radius:3px"><g filter="url(#avb)"><rect width="38" height="38" fill="#d2d2d2"/><rect y="0" width="38" height="8" fill="#c3c3c3"/><rect x="26" y="6" width="12" height="20" fill="#dedede"/><path d="M13.500 14C12.500 6.500 15.500 3 19.500 3S26.500 6 25.500 14z" fill="#3a2e28"/><ellipse cx="19.300" cy="13.800" rx="5" ry="6.300" fill="#dfb097"/><path d="M14.300 15C14.300 23.500 17 24.500 19.300 24.500S24.300 23.500 24.300 15C23 18.500 21.500 19 19.300 19S15.500 18.500 14.300 15z" fill="#4a3a32"/><path d="M14.300 11C15 6.500 23.500 6 24.300 11 22 9 16.500 9 14.300 11z" fill="#3a2e28"/><path d="M0 38C.5 30 5 26 13 23.500L19 26 25 23.500C32 25.500 37.500 29 38 38z" fill="#5c3229"/><path d="M13.500 24L15 38H24.500L25 24 19.300 27z" fill="#3c3628"/></g></svg></div><div class="abs tc-n" style="left:74.500px;top:386.5px">Charlie Davieson</div><div class="abs tc-s" style="left:74.500px;top:406.5px">15 Purchases</div><div class="abs tc-p" style="right:24.500px;top:394.5px">$1,835</div>
</div>
<div class="card" style="left:1407px;top:368px;width:417px;height:451px">
<div class="chead"><h5>Sale Value</h5><div class="dots"><i></i></div></div>
<svg class="abs" style="left:0;top:0" width="415" height="340" viewBox="0 0 415 340"><path d="M207.90 81.00A115 115 0 0 1 239.59 306.46L232.63 282.45A90 90 0 0 0 207.84 106.00Z" fill="#5c67f2"/><path d="M239.59 306.46A115 115 0 0 1 93.72 212.00L118.48 208.53A90 90 0 0 0 232.63 282.45Z" fill="#60a5fa"/><path d="M93.72 212.00A115 115 0 0 1 207.30 81.00L207.36 106.00A90 90 0 0 0 118.48 208.53Z" fill="#5c67f2"/><circle cx="208.3" cy="198.0" r="74.500" fill="none" stroke="#5561f0" stroke-width="1.600" stroke-dasharray="6 4.500"/><text x="207.9" y="205.5" text-anchor="middle" font-family="Inter,Liberation Sans,sans-serif" font-size="20" font-weight="600" fill="#3f4a5c">75%</text></svg>
<div class="abs" style="left:0;top:335px;width:415px;height:1px;background:#e9edf3"></div>
<div class="abs" style="left:206.800px;top:335px;width:1px;height:114px;background:#e9edf3"></div>
<div class="abs sv-l" style="left:0;width:207px;top:356px">Sale Items</div>
<div class="abs sv-v" style="left:0;width:207px;top:375.500px">567</div>
<div class="abs sv-p" style="left:0;width:207px;top:408px;color:#22c55e"><svg width="8.500" height="5" viewBox="0 0 8.500 5" style="display:inline-block;vertical-align:middle;margin:0 3px 2px 0"><path d="M0 5L4.250 .3 8.500 5z" fill="#22c55e"/></svg>0.23%</div>
<div class="abs sv-l" style="left:208px;width:207px;top:356px">Sale Revenue</div>
<div class="abs sv-v" style="left:208px;width:207px;top:375.500px">$11,197</div>
<div class="abs sv-p" style="left:208px;width:207px;top:408px;color:#f43f5e"><svg width="7.500" height="4.500" viewBox="0 0 7.500 4.500" style="display:inline-block;vertical-align:middle;margin:0 3.500px 0 0"><path d="M0 0L3.750 4.300 7.500 0z" fill="#f43f5e"/></svg>0.15%</div>
</div>
<div class="card" style="left:96px;top:846px;width:417px;height:450px">
<div class="chead"><h5>Upcoming Products</h5><div class="dots"><i></i></div></div>
<div class="abs" style="left:24px;top:81px"><div class="th" style="background:radial-gradient(circle at 50% 50%,#cfc9c2 0,#b9b2aa 70%,#a9a29a 100%)"><div style="left:12.400px;top:7px;width:11.200px;height:22.200px;border-radius:1.200px;background:#2a2a2a"></div><div style="left:13.100px;top:7.700px;width:9.800px;height:20.200px;background:#fff"></div></div></div><div class="abs tc-n" style="left:70.500px;top:81.5px">Smart Phone</div><div class="abs tc-s" style="left:70.500px;top:101.5px">Mobiles</div><div class="abs tc-n" style="right:24.500px;top:81.5px;color:#22c55e">$199.99</div><div class="abs tc-s" style="right:24.500px;top:101.5px"><svg width="10.500" height="10.500" viewBox="0 0 12 12" style="display:inline-block;vertical-align:-1px;margin-right:5.500px"><circle cx="6" cy="6" r="5.200" fill="none" stroke="#98a2bb" stroke-width="1.200"/><path d="M6 2.800V6.200H8.600" fill="none" stroke="#98a2bb" stroke-width="1.200"/></svg>01 Apr, 2023</div><div class="abs" style="left:24px;top:142px"><div class="th" style="background:radial-gradient(circle at 45% 45%,#fafafa 0,#ececec 60%,#e2e2e2 100%)"><div style="left:9px;top:9px;width:20px;height:20px;border-radius:50%;border:3px solid #fdfdfd;box-shadow:0 1px 2px rgba(0,0,0,.12)"></div><div style="left:7px;top:19px;width:8px;height:11px;border-radius:40%;background:#f6f6f6;box-shadow:0 1px 2px rgba(0,0,0,.15)"></div><div style="left:23px;top:19px;width:8px;height:11px;border-radius:40%;background:#f6f6f6;box-shadow:0 1px 2px rgba(0,0,0,.15)"></div></div></div><div class="abs tc-n" style="left:70.500px;top:142.5px">White Headphones</div><div class="abs tc-s" style="left:70.500px;top:162.5px">Music</div><div class="abs tc-n" style="right:24.500px;top:142.5px;color:#22c55e">$79.49</div><div class="abs tc-s" style="right:24.500px;top:162.5px"><svg width="10.500" height="10.500" viewBox="0 0 12 12" style="display:inline-block;vertical-align:-1px;margin-right:5.500px"><circle cx="6" cy="6" r="5.200" fill="none" stroke="#98a2bb" stroke-width="1.200"/><path d="M6 2.800V6.200H8.600" fill="none" stroke="#98a2bb" stroke-width="1.200"/></svg>01 Apr, 2023</div><div class="abs" style="left:24px;top:203px"><div class="th" style="background:#c5dbf3"><div style="left:12.500px;top:15.500px;width:11.500px;height:12px;border-radius:50%;background:#f3f0ea;border:1.800px solid #7ea3cc"></div><div style="left:12.500px;top:12.500px;width:4.500px;height:3.500px;border-radius:50%;background:#7099c4"></div><div style="left:19.500px;top:12.500px;width:4.500px;height:3.500px;border-radius:50%;background:#7099c4"></div><div style="left:18px;top:18px;width:.8px;height:3.500px;background:#333"></div><div style="left:18px;top:21px;width:3px;height:.9px;background:#222"></div><div style="left:13px;top:27px;width:1.500px;height:2.500px;background:#7099c4;transform:rotate(25deg)"></div><div style="left:22px;top:27px;width:1.500px;height:2.500px;background:#7099c4;transform:rotate(-25deg)"></div></div></div><div class="abs tc-n" style="left:70.500px;top:203.5px">Stop Watch</div><div class="abs tc-s" style="left:70.500px;top:223.5px">Electronics</div><div class="abs tc-n" style="right:24.500px;top:203.5px;color:#22c55e">$49.29</div><div class="abs tc-s" style="right:24.500px;top:223.5px"><svg width="10.500" height="10.500" viewBox="0 0 12 12" style="display:inline-block;vertical-align:-1px;margin-right:5.500px"><circle cx="6" cy="6" r="5.200" fill="none" stroke="#98a2bb" stroke-width="1.200"/><path d="M6 2.800V6.200H8.600" fill="none" stroke="#98a2bb" stroke-width="1.200"/></svg>01 Apr, 2023</div><div class="abs" style="left:24px;top:264px"><div class="th" style="background:#c8ecd8"><div style="left:7px;top:11px;width:24px;height:18px;border-radius:3px;background:#15171a"></div><div style="left:11px;top:8px;width:10px;height:5px;border-radius:2px;background:#1c1e22"></div><div style="left:11px;top:13px;width:13px;height:13px;border-radius:50%;background:#0a0a0c;border:2px solid #2c2f36"></div><div style="left:27px;top:22px;width:6px;height:6px;border-radius:50%;background:#23262b"></div></div></div><div class="abs tc-n" style="left:70.500px;top:264.5px">Kikon Camera</div><div class="abs tc-s" style="left:70.500px;top:284.5px">Electronics</div><div class="abs tc-n" style="right:24.500px;top:264.5px;color:#22c55e">$1,699.00</div><div class="abs tc-s" style="right:24.500px;top:284.5px"><svg width="10.500" height="10.500" viewBox="0 0 12 12" style="display:inline-block;vertical-align:-1px;margin-right:5.500px"><circle cx="6" cy="6" r="5.200" fill="none" stroke="#98a2bb" stroke-width="1.200"/><path d="M6 2.800V6.200H8.600" fill="none" stroke="#98a2bb" stroke-width="1.200"/></svg>01 Apr, 2023</div><div class="abs" style="left:24px;top:325px"><div class="th" style="background:#efb4c8"><div style="left:7px;top:8px;width:11px;height:19px;border-radius:45% 45% 40% 40%;background:#6f6a70;transform:rotate(-8deg)"></div><div style="left:20px;top:8px;width:11px;height:19px;border-radius:45% 45% 40% 40%;background:#7a757b;transform:rotate(8deg)"></div><div style="left:9px;top:11px;width:7px;height:9px;border-radius:40%;background:#d9d5d8;transform:rotate(-8deg)"></div><div style="left:22px;top:11px;width:7px;height:9px;border-radius:40%;background:#d9d5d8;transform:rotate(8deg)"></div><div style="left:15px;top:27px;width:7px;height:6px;border-radius:50%;background:#c8283c"></div></div></div><div class="abs tc-n" style="left:70.500px;top:325.5px">Kids shoes</div><div class="abs tc-s" style="left:70.500px;top:345.5px">Clothing</div><div class="abs tc-n" style="right:24.500px;top:325.5px;color:#22c55e">$149.00</div><div class="abs tc-s" style="right:24.500px;top:345.5px"><svg width="10.500" height="10.500" viewBox="0 0 12 12" style="display:inline-block;vertical-align:-1px;margin-right:5.500px"><circle cx="6" cy="6" r="5.200" fill="none" stroke="#98a2bb" stroke-width="1.200"/><path d="M6 2.800V6.200H8.600" fill="none" stroke="#98a2bb" stroke-width="1.200"/></svg>01 Apr, 2023</div><div class="abs" style="left:24px;top:386px"><div class="th" style="background:#cfe6ef"><div style="left:12px;top:11px;width:14px;height:18px;background:#dcecf5;border:1.500px solid #b0905c"></div><div style="left:6px;top:7px;width:9px;height:7px;border-radius:50%;background:#b8202c"></div><div style="left:24px;top:24px;width:9px;height:7px;border-radius:50%;background:#a81c28"></div><div style="left:4px;top:10px;width:6px;height:3px;border-radius:50%;background:#2f6a3a;transform:rotate(30deg)"></div><div style="left:29px;top:22px;width:6px;height:3px;border-radius:50%;background:#2f6a3a;transform:rotate(-40deg)"></div></div></div><div class="abs tc-n" style="left:70.500px;top:386.5px">Photo Frame</div><div class="abs tc-s" style="left:70.500px;top:406.5px">Furniture</div><div class="abs tc-n" style="right:24.500px;top:386.5px;color:#22c55e">$29.99</div><div class="abs tc-s" style="right:24.500px;top:406.5px"><svg width="10.500" height="10.500" viewBox="0 0 12 12" style="display:inline-block;vertical-align:-1px;margin-right:5.500px"><circle cx="6" cy="6" r="5.200" fill="none" stroke="#98a2bb" stroke-width="1.200"/><path d="M6 2.800V6.200H8.600" fill="none" stroke="#98a2bb" stroke-width="1.200"/></svg>01 Apr, 2023</div>
</div>
<div class="card" style="left:533px;top:846px;width:563px;height:458px">
<div class="chead" style="height:55px"><h5>Social Visitors</h5><div class="selbtn" style="width:117.500px;height:29.500px;padding:0 14.500px 0 13px"><span>This Week</span><svg width="9" height="6" viewBox="0 0 9 6"><path d="M.8 1L4.500 4.700 8.200 1" fill="none" stroke="#8c97ad" stroke-width="1.200"/></svg></div></div>
<svg class="abs" style="left:0;top:0" width="561" height="455" viewBox="0 0 561 455" font-family="Liberation Sans,Helvetica,Arial,sans-serif" font-weight="700" font-size="12"><defs><linearGradient id="sg" x1="0" x2="1" y1="0" y2="0"><stop offset="0" stop-color="#5fa2f8"/><stop offset="1" stop-color="#5b66f1"/></linearGradient></defs><line x1="92.3" x2="92.3" y1="93.6" y2="395.8" stroke="#e9ecf2" stroke-width="1"/><line x1="92.3" x2="528.9" y1="396.1" y2="396.1" stroke="#edf0f5" stroke-width="1"/><path d="M92.3 101.0h113.4q3 0 3 3v29q0 3 -3 3h-113.4z" fill="url(#sg)"/><text x="77.6" y="120.4" text-anchor="end" fill="#5b6478">Facebook</text><path d="M92.3 151.4h133.8q3 0 3 3v29q0 3 -3 3h-133.8z" fill="url(#sg)"/><text x="77.6" y="170.8" text-anchor="end" fill="#5b6478">Instagram</text><path d="M92.3 201.7h154.2q3 0 3 3v29q0 3 -3 3h-154.2z" fill="url(#sg)"/><text x="77.6" y="221.1" text-anchor="end" fill="#5b6478">Dribble</text><path d="M92.3 252.1h197.8q3 0 3 3v29q0 3 -3 3h-197.8z" fill="url(#sg)"/><text x="77.6" y="271.5" text-anchor="end" fill="#5b6478">Twitter</text><path d="M92.3 302.4h317.2q3 0 3 3v29q0 3 -3 3h-317.2z" fill="url(#sg)"/><text x="77.6" y="321.8" text-anchor="end" fill="#5b6478">Chrome</text><path d="M92.3 352.8h398.7q3 0 3 3v29q0 3 -3 3h-398.7z" fill="url(#sg)"/><text x="77.6" y="372.2" text-anchor="end" fill="#5b6478">Pininterest</text><text x="92.3" y="418.0" text-anchor="middle" fill="#5b6478">0</text><text x="179.6" y="418.0" text-anchor="middle" fill="#5b6478">300</text><text x="266.9" y="418.0" text-anchor="middle" fill="#5b6478">600</text><text x="354.3" y="418.0" text-anchor="middle" fill="#5b6478">900</text><text x="441.6" y="418.0" text-anchor="middle" fill="#5b6478">1200</text><text x="528.9" y="418.0" text-anchor="middle" fill="#5b6478">1500</text></svg>
</div>
<div class="card" style="left:1116px;top:846px;width:708px;height:454px;overflow:hidden">
<div class="chead"><h5>Top Selling Products</h5><div class="dots"><i></i></div></div>
<div class="abs" style="left:0;top:57px;width:706px;height:38px;background:#f8fafc;border-bottom:1px solid #e9edf3"></div>
<div class="abs tp-h" style="left:10.500px;top:67px">PRODUCT</div><div class="abs tp-h" style="left:365.500px;top:67px">CATEGORY</div><div class="abs tp-h" style="left:466.500px;top:67px">STOCK</div><div class="abs tp-h" style="left:604px;top:67px">TOTALSALES</div>
<div class="abs" style="left:0;top:153.75px;width:706px;height:1px;background:#e9edf3"></div><div class="abs" style="left:10px;top:105.38px"><div class="pth"><div style="left:11.500px;top:9px;width:15px;height:19px;border-radius:5px 5px 3px 3px;background:#2a8a9a"></div><div style="left:13px;top:19px;width:12px;height:8px;border-radius:2px;background:#1f6f7f"></div><div style="left:15px;top:11px;width:8px;height:4px;border-radius:2px;background:#e0793a"></div><div style="left:25px;top:11px;width:3px;height:13px;border-radius:2px;background:#e08a4a;transform:rotate(12deg)"></div><div style="left:20px;top:7px;width:5px;height:4px;background:#d93a4a"></div></div></div><div class="abs tp-n" style="left:56px;top:113.38px">Ethnic School bag for children (24L)</div><div class="abs tp-c" style="left:365.500px;top:114.38px">Bags</div><div class="abs" style="left:466px;top:112.38px"><span class="bg bg-g">In Stock</span></div><div class="abs tp-t" style="left:603.500px;top:114.38px">5,093</div><div class="abs" style="left:0;top:213.50px;width:706px;height:1px;background:#e9edf3"></div><div class="abs" style="left:10px;top:165.12px"><div class="pth"><div style="left:11.500px;top:9px;width:15px;height:20px;border-radius:4px 4px 1px 1px;background:#1c1c1e"></div><div style="left:9.500px;top:12px;width:5px;height:16px;border-radius:3px;background:#242426;transform:rotate(6deg)"></div><div style="left:23.500px;top:12px;width:5px;height:16px;border-radius:3px;background:#242426;transform:rotate(-6deg)"></div><div style="left:18.500px;top:10px;width:1px;height:18px;background:#555"></div></div></div><div class="abs tp-n" style="left:56px;top:173.12px">Leather jacket for men (S,M,L,XL)</div><div class="abs tp-c" style="left:365.500px;top:174.12px">Clothing</div><div class="abs" style="left:466px;top:172.12px"><span class="bg bg-g">In Stock</span></div><div class="abs tp-t" style="left:603.500px;top:174.12px">6,890</div><div class="abs" style="left:0;top:273.25px;width:706px;height:1px;background:#e9edf3"></div><div class="abs" style="left:10px;top:224.88px"><div class="pth"><div style="left:12.500px;top:9px;width:13px;height:11px;border-radius:50%;background:#d9a85c"></div><div style="left:11.500px;top:8px;width:5px;height:5px;border-radius:50%;background:#c9964a"></div><div style="left:21.500px;top:8px;width:5px;height:5px;border-radius:50%;background:#c9964a"></div><div style="left:12px;top:19px;width:14px;height:10px;border-radius:40%;background:#e8eef6"></div><div style="left:9.500px;top:20px;width:5px;height:7px;border-radius:50%;background:#d9a85c"></div><div style="left:23.500px;top:20px;width:5px;height:7px;border-radius:50%;background:#d9a85c"></div><div style="left:14px;top:6px;width:9px;height:4px;border-radius:50%;background:#a9c6ea"></div></div></div><div class="abs tp-n" style="left:56px;top:232.88px">Childrens Teddy toy of high quality</div><div class="abs tp-c" style="left:365.500px;top:233.88px">Toys</div><div class="abs" style="left:466px;top:231.88px"><span class="bg bg-r">Out Of Stock</span></div><div class="abs tp-t" style="left:603.500px;top:233.88px">5,423</div><div class="abs" style="left:0;top:333.00px;width:706px;height:1px;background:#e9edf3"></div><div class="abs" style="left:10px;top:284.62px"><div class="pth"><div style="left:14.500px;top:8px;width:11px;height:22px;border-radius:5px;background:#e84a4a"></div><div style="left:11.500px;top:13px;width:10px;height:12px;border-radius:2.500px;background:#18181a"></div><div style="left:13px;top:15px;width:4px;height:5px;background:#ddd"></div></div></div><div class="abs tp-n" style="left:56px;top:292.62px">Orange smart watch (24mm)</div><div class="abs tp-c" style="left:365.500px;top:293.62px">Fashion</div><div class="abs" style="left:466px;top:291.62px"><span class="bg bg-r">Out Of Stock</span></div><div class="abs tp-t" style="left:603.500px;top:293.62px">10,234</div><div class="abs" style="left:0;top:392.75px;width:706px;height:1px;background:#e9edf3"></div><div class="abs" style="left:10px;top:344.38px"><div class="pth"><div style="left:9.500px;top:13px;width:19px;height:14px;border-radius:3px;background:#151517"></div><div style="left:14px;top:9.500px;width:9px;height:5px;border-radius:2px;background:#1d1d20"></div><div style="left:17px;top:17px;width:13px;height:12px;border-radius:50%;background:#0c0c0e;border:1.500px solid #3a3a40"></div><div style="left:9px;top:20px;width:6px;height:7px;border-radius:2px;background:#222226"></div></div></div><div class="abs tp-n" style="left:56px;top:352.38px">Black Camera</div><div class="abs tp-c" style="left:365.500px;top:353.38px">Electronic</div><div class="abs" style="left:466px;top:351.38px"><span class="bg bg-g">In Stock</span></div><div class="abs tp-t" style="left:603.500px;top:353.38px">10,234</div><div class="abs" style="left:10px;top:404.12px"><div class="pth"><div style="left:10px;top:16px;width:18px;height:13px;border-radius:4px 4px 5px 5px;background:#a83a52"></div><div style="left:14px;top:9px;width:10px;height:10px;border-radius:50% 50% 0 0;border:1.800px solid #8a8088;border-bottom:none"></div><div style="left:13px;top:15px;width:12px;height:6px;border-radius:2px;background:#962f46"></div><div style="left:8.500px;top:20px;width:4px;height:8px;border-radius:50%;background:#b04560"></div></div></div><div class="abs tp-n" style="left:56px;top:412.12px">Hand Bag For Ladies</div><div class="abs tp-c" style="left:365.500px;top:413.12px">Fashion</div><div class="abs" style="left:466px;top:411.12px"><span class="bg bg-r">Out Of Stock</span></div><div class="abs tp-t" style="left:603.500px;top:413.12px">1,034</div>
</div>
<div class="card" style="left:96px;top:1328px;width:1728px;height:621px">
<div class="chead" style="height:55px"><h5>Recent Order Details</h5><div class="selbtn" style="width:101.500px;height:29px;padding:0 13.500px 0 13.500px"><span>View All</span><svg width="9" height="6" viewBox="0 0 9 6"><path d="M.8 1L4.500 4.700 8.200 1" fill="none" stroke="#8c97ad" stroke-width="1.200"/></svg></div></div>
<div class="abs" style="left:24px;top:79px;width:1678px;height:516px;border:1px solid #e5e9f0;border-radius:4px;overflow:hidden"><div class="abs" style="left:0;top:0;width:1678px;height:40px;background:#f8fafc"></div><div class="abs" style="left:0;top:40px;width:1678px;height:1px;background:#e5e9f0"></div><div class="abs" style="left:0;top:119px;width:1678px;height:1px;background:#e5e9f0"></div><div class="abs" style="left:0;top:198px;width:1678px;height:1px;background:#e5e9f0"></div><div class="abs" style="left:0;top:277px;width:1678px;height:1px;background:#e5e9f0"></div><div class="abs" style="left:0;top:356px;width:1678px;height:1px;background:#e5e9f0"></div><div class="abs" style="left:0;top:435px;width:1678px;height:1px;background:#e5e9f0"></div><div class="abs" style="left:96px;top:0;width:1px;height:516px;background:#e5e9f0"></div><div class="abs" style="left:451px;top:0;width:1px;height:516px;background:#e5e9f0"></div><div class="abs" style="left:614px;top:0;width:1px;height:516px;background:#e5e9f0"></div><div class="abs" style="left:985px;top:0;width:1px;height:516px;background:#e5e9f0"></div><div class="abs" style="left:1158px;top:0;width:1px;height:516px;background:#e5e9f0"></div><div class="abs" style="left:1363px;top:0;width:1px;height:516px;background:#e5e9f0"></div><div class="abs" style="left:1468px;top:0;width:1px;height:516px;background:#e5e9f0"></div><div class="abs tp-h" style="left:24px;top:12px">S.NO</div><div class="abs tp-h" style="left:121px;top:12px">ITEM DETAILS</div><div class="abs tp-h" style="left:476px;top:12px">CUSTOMER ID</div><div class="abs tp-h" style="left:639px;top:12px">CUSTOMER DETAILS</div><div class="abs tp-h" style="left:1010px;top:12px">ORDERED DATE</div><div class="abs tp-h" style="left:1183px;top:12px">STATUS</div><div class="abs tp-h" style="left:1388px;top:12px">PRICE</div><div class="abs tp-h" style="left:1493px;top:12px">ACTION</div><div class="abs ro-t" style="left:24px;top:70px">1</div><div class="abs" style="left:121px;top:57px"><div class="pim" style="width:46px"><svg width="46" height="46" viewBox="0 0 46 46" style="position:absolute;left:0.0px;top:0"><g fill="#17171a" stroke="#17171a" stroke-linejoin="round"><path d="M11 10.800C15 10 21 10.200 26.500 11l-.3 2.200C21 12.500 15.500 12.500 11.200 13.200z" stroke-width=".5"/><path d="M11 11.500C9.800 14 10.500 18 13 21.500L16.500 19C14.500 16.500 14 13.500 14.500 11.500z" stroke-width=".5"/><path d="M12.200 17L13.300 30.500h1.200L15.200 19z" stroke-width=".4"/><path d="M13 20C17 24 20 28.500 24 30.500 28 32 33 31.500 35.500 30.500L35 28.500C31 29 27.500 28.500 25 27 21.500 24.500 19 21 16.500 18z" stroke-width=".5"/><path d="M27.500 27.500C29.500 25.500 33 25.800 35.500 27.800L36 30.500 29 31z" stroke-width=".5"/><path d="M24.500 12L22.500 24" stroke-width="1.600" fill="none"/></g></svg></div></div><div class="abs tc-n" style="left:179.5px;top:61.5px">Black Heals For Women</div><div class="abs tc-s" style="left:179.5px;top:81.5px">#2343</div><div class="abs ro-u" style="left:476px;top:70px">#user1</div><div class="abs" style="left:639px;top:61px"><svg class="avs" width="38" height="38" viewBox="0 0 38 38" style="border-radius:3px"><g filter="url(#avb)"><rect width="38" height="38" fill="#d9d9d7"/><rect x="0" width="5" height="38" fill="#b9b9b5"/><rect x="6.500" width="2" height="38" fill="#c6c6c2"/><rect x="24" y="0" width="14" height="20" fill="#e6e6e4"/><path d="M8 26C8 12 10 2.500 17 2.500S25 10 25.500 20L24 30H9z" fill="#3a2a24"/><ellipse cx="15.200" cy="13.500" rx="4.300" ry="5.800" fill="#e2b59e"/><path d="M10.500 9C12 5 18 4.500 20 9.500 17 7.500 13.500 7.500 10.500 9z" fill="#3a2a24"/><path d="M14 38L17 24C21 19 30 19.500 34 22.500 36.500 25 37 32 37 38z" fill="#1f1f21"/><path d="M16.500 38L17.500 27 20.500 25 21 38z" fill="#e9ebee"/><path d="M6 38C6 30 8 22 10.500 19.500L13.500 21C12.500 25 12 32 12.500 38z" fill="#dcae96"/><path d="M9.500 19c1.500-2 4-2 5 0l-1 2.500h-3.500z" fill="#dcae96"/></g></svg></div><div class="abs tc-n" style="left:689px;top:61.5px">Socrates Itumay</div><div class="abs tc-s" style="left:689px;top:81.5px">socratesitumay@gmail.com</div><div class="abs ro-t" style="left:1010.5px;top:70px">10-12-2022</div><div class="abs sb" style="left:1183.5px;top:66px;background:rgba(34,197,94,.12);color:#22c55e">Success</div><div class="abs ro-t" style="left:1388px;top:70px">$999</div><div class="abs ab" style="left:1493.0px;top:64px;background:rgba(91,102,241,.1)"><svg width="14" height="14" viewBox="0 0 24 24" fill="none" stroke="#5b66f1" stroke-width="1.800"><path d="M1.500 12c2.600-4.600 6.200-6.800 10.500-6.800S19.900 7.400 22.500 12c-2.600 4.600-6.200 6.800-10.500 6.800S4.100 16.600 1.500 12z" stroke-linejoin="round"/><circle cx="12" cy="12" r="2.800"/></svg></div><div class="abs ab" style="left:1536.6px;top:64px;background:rgba(96,165,250,.12)"><svg width="14" height="14" viewBox="0 0 24 24" fill="none" stroke="#60a5fa" stroke-width="1.800"><path d="M15.500 4.500l4 4L8 20l-4.500.5L4 16z" stroke-linejoin="round"/><path d="M13 7l4 4"/></svg></div><div class="abs ab" style="left:1580.2px;top:64px;background:rgba(244,63,94,.12)"><svg width="14" height="14" viewBox="0 0 24 24" fill="none" stroke="#f43f5e" stroke-width="1.700"><path d="M3 6.500h18M8.500 6V3.500h7V6M5.500 6.500l1 14.500h11l1-14.500M10 10.500v6.500M14 10.500v6.500" stroke-linejoin="round"/></svg></div><div class="abs ro-t" style="left:24px;top:149px">2</div><div class="abs" style="left:121px;top:136px"><div class="pim" style="width:45px"><svg width="46" height="46" viewBox="0 0 46 46" style="position:absolute;left:-0.5px;top:0"><path d="M18.500 9L13.500 11 11.500 31l3.200.8.900-8.500.4 13.200h14.500l.4-13.200.9 8.500 3.200-.8L33 11 28 9c-2 1.800-7.500 1.800-9.500 0z" fill="#f6f6f6" stroke="#dedede" stroke-width=".8"/><path d="M20 9.600c1.500 1.700 5 1.700 6.500 0" fill="none" stroke="#cfcfcf" stroke-width=".9"/><path d="M22.300 9.400h2v1.300h-2z" fill="#333"/></svg></div></div><div class="abs tc-n" style="left:178.5px;top:140.5px">White Tshirt</div><div class="abs tc-s" style="left:178.5px;top:160.5px">#5655</div><div class="abs ro-u" style="left:476px;top:149px">#user2</div><div class="abs" style="left:639px;top:140px"><svg class="avs" width="38" height="38" viewBox="0 0 38 38" style="border-radius:3px"><g filter="url(#avb)"><rect width="38" height="38" fill="#4a4b50"/><rect y="0" width="38" height="4" fill="#2a2624"/><ellipse cx="3.500" cy="9" rx="4" ry="5" fill="#efe9e0"/><ellipse cx="31" cy="8.500" rx="6" ry="3.500" fill="#e8d9c4"/><ellipse cx="11" cy="7" rx="3" ry="2" fill="#c9bfb2"/><rect y="17" width="38" height="21" fill="#5a5d63"/><path d="M11 23C10 10 12.500 3.500 18.500 3.500S27 8 27.500 16C29 22 32 25 33 29L24 27 12 26z" fill="#2f1d18"/><ellipse cx="18.300" cy="13.500" rx="4.800" ry="6.200" fill="#e3ad94"/><path d="M13.300 10C14.500 5.500 21 4.500 23.500 9.500 20 8 16 8 13.300 10z" fill="#2f1d18"/><path d="M15.800 16.200Q18.300 18.600 20.800 16.200Q18.300 17 15.800 16.200z" fill="#fff" stroke="#b3202c" stroke-width=".7"/><path d="M15.500 19.500h5.500v5h-5.500z" fill="#d79c84"/><path d="M1.500 38C2 30 5 26 13.500 24.500Q18.500 22.500 23.500 24.500C31 26 35 29 35.500 38z" fill="#9d1129"/></g></svg></div><div class="abs tc-n" style="left:689px;top:140.5px">Json Taylor</div><div class="abs tc-s" style="left:689px;top:160.5px">jsontaylor2416@gmail.com</div><div class="abs ro-t" style="left:1010.5px;top:149px">11-12-2022</div><div class="abs sb" style="left:1183.5px;top:145px;background:rgba(91,102,241,.1);color:#6c77e8">Shipping</div><div class="abs ro-t" style="left:1388px;top:149px">$699</div><div class="abs ab" style="left:1493.0px;top:143px;background:rgba(91,102,241,.1)"><svg width="14" height="14" viewBox="0 0 24 24" fill="none" stroke="#5b66f1" stroke-width="1.800"><path d="M1.500 12c2.600-4.600 6.200-6.800 10.500-6.800S19.900 7.400 22.500 12c-2.600 4.600-6.200 6.800-10.500 6.800S4.100 16.600 1.500 12z" stroke-linejoin="round"/><circle cx="12" cy="12" r="2.800"/></svg></div><div class="abs ab" style="left:1536.6px;top:143px;background:rgba(96,165,250,.12)"><svg width="14" height="14" viewBox="0 0 24 24" fill="none" stroke="#60a5fa" stroke-width="1.800"><path d="M15.500 4.500l4 4L8 20l-4.500.5L4 16z" stroke-linejoin="round"/><path d="M13 7l4 4"/></svg></div><div class="abs ab" style="left:1580.2px;top:143px;background:rgba(244,63,94,.12)"><svg width="14" height="14" viewBox="0 0 24 24" fill="none" stroke="#f43f5e" stroke-width="1.700"><path d="M3 6.500h18M8.500 6V3.500h7V6M5.500 6.500l1 14.500h11l1-14.500M10 10.500v6.500M14 10.500v6.500" stroke-linejoin="round"/></svg></div><div class="abs ro-t" style="left:24px;top:228px">3</div><div class="abs" style="left:121px;top:215px"><div class="pim" style="width:42.5px"><svg width="46" height="46" viewBox="0 0 46 46" style="position:absolute;left:-1.8px;top:0"><path d="M17.500 12c0-4.500 9-4.500 9 0l4.500 6.500 1.500 13-3.500 1-1-5-1 9.500H17l-1-9.500-1 5-3.500-1 1.500-13z" fill="#a2a6aa"/><path d="M18.500 13.500c0-3.500 7-3.500 7 0l.8 23.300H17.800z" fill="#1787b8"/><path d="M18 11.500c0-3.800 8-3.800 8 0l-1 2c-1-2.500-5-2.500-6 0z" fill="#8a8f94"/><path d="M16.500 16l2.500 20M27.500 16l-2.500 20" stroke="#7c8186" stroke-width="1.300" fill="none"/><rect x="22.500" y="17.500" width="2" height="1.600" fill="#fff"/></svg></div></div><div class="abs tc-n" style="left:176.0px;top:219.5px">Jacket For Men</div><div class="abs tc-s" style="left:176.0px;top:239.5px">#15245</div><div class="abs ro-u" style="left:476px;top:228px">#user3</div><div class="abs" style="left:639px;top:219px"><svg class="avs" width="38" height="38" viewBox="0 0 38 38" style="border-radius:3px"><g filter="url(#avb)"><rect width="38" height="38" fill="#f5b3b3"/><path d="M11.500 24C11.500 10 13 2 19.500 2S27 10 27.500 24z" fill="#5a3524"/><ellipse cx="19.200" cy="12.500" rx="4.300" ry="5.800" fill="#efc4ad"/><path d="M14.800 9.500C16 5 22.500 4.500 24 9.500 21 7.500 17.500 7.500 14.800 9.500z" fill="#5a3524"/><path d="M17 17.500h4.500v5H17z" fill="#e9b9a2"/><path d="M7 38C7 28 9 24 15 22.500L19.500 25 24 22.500C30 24 34 28 34.500 38z" fill="#f6dcd8"/><path d="M17 38C16 32 15.500 25 17.500 19.500L20.500 20.500C20 26 20.500 32 21.500 38z" fill="#eec2ac"/><path d="M30 30h5v6h-5zM7 30h4v7H7z" fill="#efc4ad"/></g></svg></div><div class="abs tc-n" style="left:689px;top:219.5px">Suzika Stallone</div><div class="abs tc-s" style="left:689px;top:239.5px">suzikastallone3214@gmail.com</div><div class="abs ro-t" style="left:1010.5px;top:228px">12-12-2022</div><div class="abs sb" style="left:1183.5px;top:224px;background:rgba(251,191,36,.15);color:#f0b429">Out For Delivery</div><div class="abs ro-t" style="left:1388px;top:228px">$599</div><div class="abs ab" style="left:1493.0px;top:222px;background:rgba(91,102,241,.1)"><svg width="14" height="14" viewBox="0 0 24 24" fill="none" stroke="#5b66f1" stroke-width="1.800"><path d="M1.500 12c2.600-4.600 6.200-6.800 10.500-6.800S19.900 7.400 22.500 12c-2.600 4.600-6.200 6.800-10.500 6.800S4.100 16.600 1.500 12z" stroke-linejoin="round"/><circle cx="12" cy="12" r="2.800"/></svg></div><div class="abs ab" style="left:1536.6px;top:222px;background:rgba(96,165,250,.12)"><svg width="14" height="14" viewBox="0 0 24 24" fill="none" stroke="#60a5fa" stroke-width="1.800"><path d="M15.500 4.500l4 4L8 20l-4.500.5L4 16z" stroke-linejoin="round"/><path d="M13 7l4 4"/></svg></div><div class="abs ab" style="left:1580.2px;top:222px;background:rgba(244,63,94,.12)"><svg width="14" height="14" viewBox="0 0 24 24" fill="none" stroke="#f43f5e" stroke-width="1.700"><path d="M3 6.500h18M8.500 6V3.500h7V6M5.500 6.500l1 14.500h11l1-14.500M10 10.500v6.500M14 10.500v6.500" stroke-linejoin="round"/></svg></div><div class="abs ro-t" style="left:24px;top:307px">4</div><div class="abs" style="left:121px;top:294px"><div class="pim" style="width:46px"><svg width="30" height="30" viewBox="0 0 30 30" style="position:absolute;left:8.0px;top:8px"><rect x="3.500" y="4.500" width="9" height="21" rx="3" fill="#d0161f"/><rect x="4.500" y="6" width="3" height="18" rx="1.500" fill="#a80f17"/><circle cx="18.500" cy="11.500" r="2.300" fill="#d0161f"/><rect x="17.800" y="12" width="1.700" height="12" rx=".8" fill="#d0161f"/><circle cx="24.500" cy="11.500" r="2.300" fill="#d0161f"/><rect x="23.500" y="12" width="1.700" height="12" rx=".8" fill="#d0161f"/></svg></div></div><div class="abs tc-n" style="left:179.5px;top:298.5px">Airpods</div><div class="abs tc-s" style="left:179.5px;top:318.5px">#45415</div><div class="abs ro-u" style="left:476px;top:307px">#user4</div><div class="abs" style="left:639px;top:298px"><svg class="avs" width="38" height="38" viewBox="0 0 38 38" style="border-radius:3px"><g filter="url(#avb)"><rect width="38" height="38" fill="#f2f4f4"/><rect x="8" width="7.500" height="38" fill="#9fb7c1"/><rect x="15.500" width="1.200" height="38" fill="#55666e"/><rect x="33" width="5" height="38" fill="#b5ccd2"/><ellipse cx="34" cy="8" rx="3.500" ry="6" fill="#7d9a80"/><path d="M12.500 30C12 14 14.500 5 20.500 5S28.500 12 29 22L30.500 34H13z" fill="#b9a99a"/><ellipse cx="20.300" cy="14.500" rx="4.200" ry="5.600" fill="#e6c3b1"/><path d="M16 11.500C17 7 23.500 6.500 24.800 11.500 22 9.500 18.500 9.500 16 11.500z" fill="#c3b3a3"/><path d="M.5 38C1 29 6 25 14 23L19 30 24 23.500C30 25 36 28 37 38z" fill="#8f979c"/><path d="M16 24L19.500 38H23L22 24 19 27z" fill="#eef0f2"/><path d="M24 14C27 18 29 26 30 34L26 36C26.500 28 25.500 20 24 14z" fill="#b9a99a"/></g></svg></div><div class="abs tc-n" style="left:689px;top:298.5px">Selena Deoyl</div><div class="abs tc-s" style="left:689px;top:318.5px">selenadeoyl114@gmail.com</div><div class="abs ro-t" style="left:1010.5px;top:307px">12-12-2022</div><div class="abs sb" style="left:1183.5px;top:303px;background:rgba(244,63,94,.12);color:#f43f5e">Cancelled</div><div class="abs ro-t" style="left:1388px;top:307px">$299</div><div class="abs ab" style="left:1493.0px;top:301px;background:rgba(91,102,241,.1)"><svg width="14" height="14" viewBox="0 0 24 24" fill="none" stroke="#5b66f1" stroke-width="1.800"><path d="M1.500 12c2.600-4.600 6.200-6.800 10.500-6.800S19.900 7.400 22.500 12c-2.600 4.600-6.200 6.800-10.500 6.800S4.100 16.600 1.500 12z" stroke-linejoin="round"/><circle cx="12" cy="12" r="2.800"/></svg></div><div class="abs ab" style="left:1536.6px;top:301px;background:rgba(96,165,250,.12)"><svg width="14" height="14" viewBox="0 0 24 24" fill="none" stroke="#60a5fa" stroke-width="1.800"><path d="M15.500 4.500l4 4L8 20l-4.500.5L4 16z" stroke-linejoin="round"/><path d="M13 7l4 4"/></svg></div><div class="abs ab" style="left:1580.2px;top:301px;background:rgba(244,63,94,.12)"><svg width="14" height="14" viewBox="0 0 24 24" fill="none" stroke="#f43f5e" stroke-width="1.700"><path d="M3 6.500h18M8.500 6V3.500h7V6M5.500 6.500l1 14.500h11l1-14.500M10 10.500v6.500M14 10.500v6.500" stroke-linejoin="round"/></svg></div><div class="abs ro-t" style="left:24px;top:386px">5</div><div class="abs" style="left:121px;top:373px"><div class="pim" style="width:40.5px"><svg width="25" height="30" viewBox="0 0 25 30" style="position:absolute;left:7.8px;top:8px"><path d="M12.500 1l1 3.500 3-1.500-2 3 2.500 1.500h-9L10.500 6l-2-3 3 1.500z" fill="#e2a32a"/><rect x="11" y="8" width="3" height="5" fill="#c98a1a"/><path d="M12.500 12c5 0 8 4.500 8 8.500s-3 6.500-8 6.500-8-2.500-8-6.500 3-8.500 8-8.500z" fill="#f0b23a"/><path d="M12.500 15c3 0 5 3 5 5.500s-2 4-5 4-5-1.500-5-4 2-5.500 5-5.500z" fill="#f7cf6a"/></svg></div></div><div class="abs tc-n" style="left:174.0px;top:377.5px">Jasmine Fragrance</div><div class="abs tc-s" style="left:174.0px;top:397.5px">#35656</div><div class="abs ro-u" style="left:476px;top:386px">#user5</div><div class="abs" style="left:639px;top:377px"><svg class="avs" width="38" height="38" viewBox="0 0 38 38" style="border-radius:3px"><g filter="url(#avb)"><rect width="38" height="38" fill="#8b8d8e"/><rect x="0" width="10" height="38" fill="#7b7d7e"/><path d="M12 14C11 6 14.500 2.500 19.500 2.500S27.500 6 26.500 14z" fill="#3a2c22"/><ellipse cx="19.300" cy="14" rx="5.600" ry="6.800" fill="#dcae90"/><path d="M13.700 15C13.700 24 16.500 25.500 19.300 25.500S24.900 24 24.900 15C23.500 19 22 20 19.300 20S15 19 13.700 15z" fill="#5a4434"/><path d="M13.700 10.500C14.500 5.500 24 5.500 24.900 10.500 22.500 8.500 16 8.500 13.700 10.500z" fill="#3a2c22"/><rect x="14.300" y="11.800" width="4.300" height="3" rx=".8" fill="none" stroke="#222" stroke-width=".8"/><rect x="20" y="11.800" width="4.300" height="3" rx=".8" fill="none" stroke="#222" stroke-width=".8"/><path d="M17 19.500Q19.300 21.500 21.600 19.500z" fill="#fff"/><path d="M1 38C1.500 31 6 27.500 14 25.500L19.300 28 24.500 25.500C32 27.500 36.500 31 37 38z" fill="#e9e9e9"/></g></svg></div><div class="abs tc-n" style="left:689px;top:377.5px">Roman Killon</div><div class="abs tc-s" style="left:689px;top:397.5px">romankillon143@gmail.com</div><div class="abs ro-t" style="left:1010.5px;top:386px">13-12-2022</div><div class="abs sb" style="left:1183.5px;top:382px;background:rgba(91,102,241,.1);color:#5b66f1">Ordered</div><div class="abs ro-t" style="left:1388px;top:386px">$299</div><div class="abs ab" style="left:1493.0px;top:380px;background:rgba(91,102,241,.1)"><svg width="14" height="14" viewBox="0 0 24 24" fill="none" stroke="#5b66f1" stroke-width="1.800"><path d="M1.500 12c2.600-4.600 6.200-6.800 10.500-6.800S19.900 7.400 22.500 12c-2.600 4.600-6.200 6.800-10.500 6.800S4.100 16.600 1.500 12z" stroke-linejoin="round"/><circle cx="12" cy="12" r="2.800"/></svg></div><div class="abs ab" style="left:1536.6px;top:380px;background:rgba(96,165,250,.12)"><svg width="14" height="14" viewBox="0 0 24 24" fill="none" stroke="#60a5fa" stroke-width="1.800"><path d="M15.500 4.500l4 4L8 20l-4.500.5L4 16z" stroke-linejoin="round"/><path d="M13 7l4 4"/></svg></div><div class="abs ab" style="left:1580.2px;top:380px;background:rgba(244,63,94,.12)"><svg width="14" height="14" viewBox="0 0 24 24" fill="none" stroke="#f43f5e" stroke-width="1.700"><path d="M3 6.500h18M8.500 6V3.500h7V6M5.500 6.500l1 14.500h11l1-14.500M10 10.500v6.500M14 10.500v6.500" stroke-linejoin="round"/></svg></div><div class="abs ro-t" style="left:24px;top:465px">6</div><div class="abs" style="left:121px;top:452px"><div class="pim" style="width:46px"><svg width="30" height="30" viewBox="0 0 30 30" style="position:absolute;left:8.0px;top:8px"><path d="M11 2.500h9c2.500 3 4.500 7.500 4.500 12.500s-2 9.500-4.500 12.500h-9c-2-3-3-7.500-3-12.500s1-9.500 3-12.500z" fill="#f0505a"/><rect x="5.500" y="8" width="13" height="14.500" rx="3" fill="#19191b"/><rect x="7.500" y="10" width="6" height="7" fill="#e8e8e8"/><circle cx="21.500" cy="15" r="1.500" fill="#fff" opacity=".8"/></svg></div></div><div class="abs tc-n" style="left:179.5px;top:456.5px">Smart Watch</div><div class="abs tc-s" style="left:179.5px;top:476.5px">#622545</div><div class="abs ro-u" style="left:476px;top:465px">#user6</div><div class="abs" style="left:639px;top:456px"><svg class="avs" width="38" height="38" viewBox="0 0 38 38" style="border-radius:3px"><g filter="url(#avb)"><rect width="38" height="38" fill="#d2d2d2"/><rect y="0" width="38" height="8" fill="#c3c3c3"/><rect x="26" y="6" width="12" height="20" fill="#dedede"/><path d="M13.500 14C12.500 6.500 15.500 3 19.500 3S26.500 6 25.500 14z" fill="#3a2e28"/><ellipse cx="19.300" cy="13.800" rx="5" ry="6.300" fill="#dfb097"/><path d="M14.300 15C14.300 23.500 17 24.500 19.300 24.500S24.300 23.500 24.300 15C23 18.500 21.500 19 19.300 19S15.500 18.500 14.300 15z" fill="#4a3a32"/><path d="M14.300 11C15 6.500 23.500 6 24.300 11 22 9 16.500 9 14.300 11z" fill="#3a2e28"/><path d="M0 38C.5 30 5 26 13 23.500L19 26 25 23.500C32 25.500 37.500 29 38 38z" fill="#5c3229"/><path d="M13.500 24L15 38H24.500L25 24 19.300 27z" fill="#3c3628"/></g></svg></div><div class="abs tc-n" style="left:689px;top:456.5px">Charlie Davieson</div><div class="abs tc-s" style="left:689px;top:476.5px">charliedavieson@gmail.com</div><div class="abs ro-t" style="left:1010.5px;top:465px">13-12-2022</div><div class="abs sb" style="left:1183.5px;top:461px;background:rgba(96,165,250,.12);color:#60a5fa">Packed</div><div class="abs ro-t" style="left:1388px;top:465px">$299</div><div class="abs ab" style="left:1493.0px;top:459px;background:rgba(91,102,241,.1)"><svg width="14" height="14" viewBox="0 0 24 24" fill="none" stroke="#5b66f1" stroke-width="1.800"><path d="M1.500 12c2.600-4.600 6.200-6.800 10.500-6.800S19.900 7.400 22.500 12c-2.600 4.600-6.200 6.800-10.500 6.800S4.100 16.600 1.500 12z" stroke-linejoin="round"/><circle cx="12" cy="12" r="2.800"/></svg></div><div class="abs ab" style="left:1536.6px;top:459px;background:rgba(96,165,250,.12)"><svg width="14" height="14" viewBox="0 0 24 24" fill="none" stroke="#60a5fa" stroke-width="1.800"><path d="M15.500 4.500l4 4L8 20l-4.500.5L4 16z" stroke-linejoin="round"/><path d="M13 7l4 4"/></svg></div><div class="abs ab" style="left:1580.2px;top:459px;background:rgba(244,63,94,.12)"><svg width="14" height="14" viewBox="0 0 24 24" fill="none" stroke="#f43f5e" stroke-width="1.700"><path d="M3 6.500h18M8.500 6V3.500h7V6M5.500 6.500l1 14.500h11l1-14.500M10 10.500v6.500M14 10.500v6.500" stroke-linejoin="round"/></svg></div></div>
<div class="abs" style="left:1514px;top:272px;width:43.500px;height:23.500px;border-radius:6px;background:#111827;color:#fff;font-size:12px;font-weight:600;line-height:23.500px;text-align:center">View</div>
</div>
<div class="abs" style="left:0;top:1973px;width:1920px;height:47px;background:#fff;border-top:1px solid #e2e8f0"></div>
<div class="abs" id="foot" style="left:0;top:1988px;width:1920px;text-align:center;font-size:14px;line-height:20px;color:#475569;white-space:nowrap">Copyright &copy; 2023 <span style="color:#5b66f1">Synto</span>. Designed with <svg width="13" height="11.500" viewBox="0 0 13 11.500" style="display:inline-block;vertical-align:1px;margin:0 1px"><path d="M6.500 11.300C2.500 8.300.2 6 .2 3.500.2 1.600 1.700.2 3.500.2c1.200 0 2.300.6 3 1.600.7-1 1.800-1.600 3-1.600 1.800 0 3.300 1.400 3.300 3.300 0 2.500-2.300 4.800-6.300 7.800z" fill="#ef4444"/></svg> by <span style="color:#5b66f1">Spruko</span> All rights reserved</div>
<div class="abs" style="left:1848px;top:1948px;width:40px;height:40px;border-radius:6px;background:#5b66f1;box-shadow:0 4px 10px rgba(91,102,241,.25)"><svg style="position:absolute;left:14px;top:17px" width="12" height="6" viewBox="0 0 12 6"><path d="M0 6L6 0l6 6z" fill="#fff"/></svg></div>

</body></html>
